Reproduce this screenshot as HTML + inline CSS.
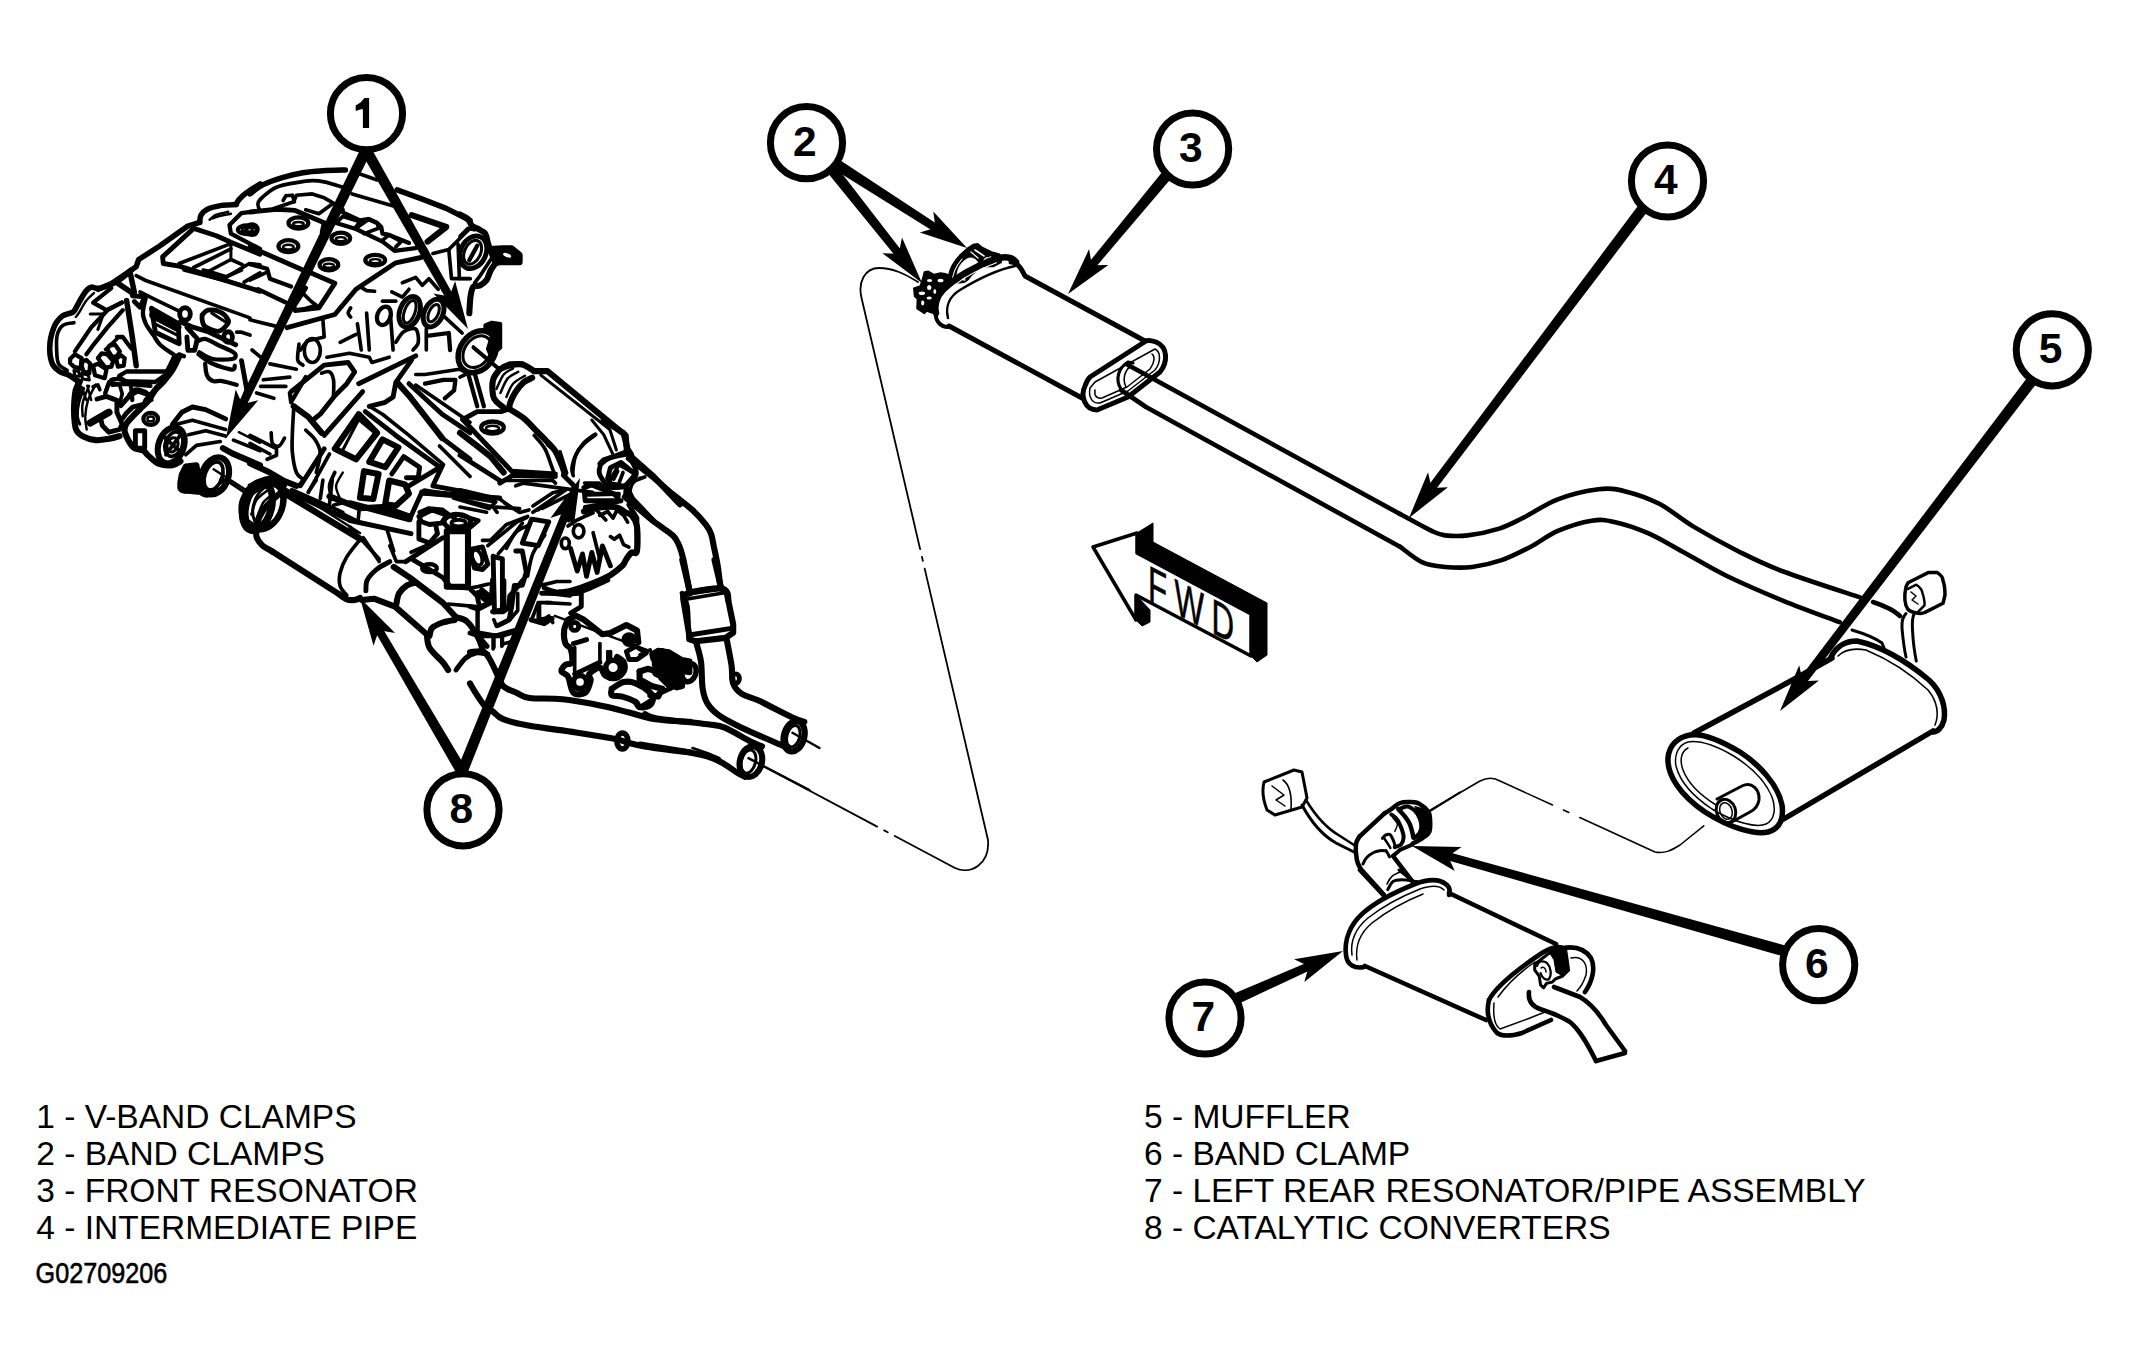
<!DOCTYPE html>
<html><head><meta charset="utf-8">
<style>
html,body{margin:0;padding:0;background:#fff;}
body{width:2129px;height:1358px;overflow:hidden;}
svg{display:block;}
</style></head>
<body>
<svg width="2129" height="1358" viewBox="0 0 2129 1358">
<g fill="none" stroke="#000" stroke-linecap="round" stroke-linejoin="round">
<path d="M260.0,184.0 C257.8,185.4 250.3,189.9 246.8,192.6 C243.2,195.2 240.6,197.9 238.8,199.9 C237.0,201.9 236.6,203.7 236.2,204.5" stroke-width="5.49" fill="none" />
<path d="M236.2,204.5 C233.7,204.7 226.4,204.6 221.6,205.4 C216.7,206.3 210.4,207.8 207.0,209.4 C203.6,211.0 202.2,213.0 201.0,215.1 C199.8,217.3 199.9,221.2 199.7,222.4" stroke-width="5.49" fill="none" />
<path d="M199.7,222.4 L187.1,226.4 L159.3,246.3 L138.7,259.5 L136.1,266.8 L111.6,283.4 L98.3,289.3" stroke-width="5.49" fill="none" />
<path d="M209.6,219.8 C210.8,218.9 213.2,216.1 216.3,214.7 C219.4,213.4 226.2,212.3 228.2,211.8" stroke-width="2.44" fill="none" />
<path d="M212.3,218.4 C213.6,218.0 217.2,216.6 220.3,215.8 C223.3,215.0 229.1,214.1 230.9,213.8" stroke-width="2.44" fill="none" />
<path d="M260.0,254.2 L230.9,242.3 L216.3,235.7 L193.7,228.4 L162.6,256.9 L163.3,263.5 L179.2,266.1 L260.0,291.3" stroke-width="4.88" fill="none" />
<path d="M179.2,263.5 L230.9,243.6" stroke-width="3.66" fill="none" />
<path d="M193.7,267.5 L230.9,248.9" stroke-width="3.66" fill="none" />
<path d="M208.3,271.5 L230.9,259.5 L242.8,264.8" stroke-width="3.66" fill="none" />
<path d="M226.9,276.8 L249.4,263.5 L260.0,264.8" stroke-width="3.66" fill="none" />
<path d="M244.1,282.1 L260.0,272.8" stroke-width="3.66" fill="none" />
<path d="M230.9,243.6 L230.9,258.2" stroke-width="3.05" fill="none" />
<path d="M260.0,210.5 L241.5,213.1 L229.5,225.1 L230.9,233.7 L260.0,248.9" stroke-width="4.27" fill="none" />
<ellipse cx="247.4" cy="229.7" rx="9.5" ry="4.4" transform="rotate(0 247.4 229.7)" stroke-width="4.27" fill="none"/>
<ellipse cx="247.4" cy="229.7" rx="5.3" ry="2.0" transform="rotate(0 247.4 229.7)" stroke-width="2.44" fill="none"/>
<path d="M250.0,193.9 C252.2,192.3 257.7,187.3 263.3,184.6 C268.8,181.8 276.5,179.3 283.1,177.3 C289.8,175.3 296.4,173.8 303.0,172.7 C309.6,171.5 315.8,171.1 322.9,170.7 C330.0,170.2 341.7,170.1 345.4,170.0" stroke-width="5.49" fill="none" />
<path d="M360.0,174.0 L377.2,179.9" stroke-width="3.66" fill="none" />
<path d="M397.1,189.9 L422.3,199.2 L446.2,208.4 L467.4,219.0 L470.0,220.4" stroke-width="5.49" fill="none" />
<path d="M259.3,209.8 C259.1,208.7 257.3,205.3 258.0,203.1 C258.6,200.9 260.2,199.2 263.3,196.5 C266.3,193.9 271.0,189.5 276.5,187.2 C282.0,184.9 290.4,183.7 296.4,182.6 C302.4,181.5 307.7,180.7 312.3,180.6 C316.9,180.5 319.1,180.8 324.2,181.9 C329.3,183.0 339.7,186.3 342.8,187.2" stroke-width="3.66" fill="none" />
<path d="M250.0,212.1 L276.5,209.2 L295.1,210.4 L324.2,222.8 L322.2,232.3" stroke-width="4.88" fill="none" />
<path d="M250.0,246.9 L301.7,269.4" stroke-width="4.88" fill="none" />
<ellipse cx="298.4" cy="223.0" rx="9.9" ry="5.6" transform="rotate(0 298.4 223.0)" stroke-width="4.27" fill="none"/>
<ellipse cx="298.4" cy="224.1" rx="5.3" ry="2.1" transform="rotate(0 298.4 224.1)" stroke-width="2.44" fill="none"/>
<ellipse cx="288.4" cy="246.2" rx="9.9" ry="6.0" transform="rotate(0 288.4 246.2)" stroke-width="4.27" fill="none"/>
<ellipse cx="288.4" cy="247.1" rx="5.3" ry="2.4" transform="rotate(0 288.4 247.1)" stroke-width="2.44" fill="none"/>
<ellipse cx="328.9" cy="264.8" rx="9.3" ry="5.6" transform="rotate(0 328.9 264.8)" stroke-width="4.27" fill="none"/>
<ellipse cx="328.9" cy="265.7" rx="5.0" ry="2.1" transform="rotate(0 328.9 265.7)" stroke-width="2.44" fill="none"/>
<ellipse cx="375.2" cy="260.1" rx="9.9" ry="5.3" transform="rotate(0 375.2 260.1)" stroke-width="4.27" fill="none"/>
<ellipse cx="375.2" cy="261.2" rx="5.3" ry="2.1" transform="rotate(0 375.2 261.2)" stroke-width="2.44" fill="none"/>
<ellipse cx="340.8" cy="238.3" rx="9.3" ry="5.6" transform="rotate(0 340.8 238.3)" stroke-width="4.27" fill="none"/>
<ellipse cx="340.8" cy="239.2" rx="5.0" ry="2.1" transform="rotate(0 340.8 239.2)" stroke-width="2.44" fill="none"/>
<ellipse cx="252.0" cy="229.6" rx="5.6" ry="5.3" transform="rotate(0 252.0 229.6)" stroke-width="4.27" fill="none"/>
<path d="M273.9,208.4 L293.7,201.8 L296.4,195.2 L312.3,193.9 L324.2,197.8 L333.5,203.1 L318.9,213.7 L305.7,209.8" stroke-width="3.66" fill="none" />
<path d="M283.1,200.5 L285.8,195.8 L292.4,195.2 L294.4,201.8" stroke-width="3.66" fill="none" />
<path d="M352.1,193.9 L392.5,205.8" stroke-width="3.66" fill="none" />
<path d="M342.8,209.8 L342.8,212.4 L360.0,220.4 L368.0,219.0 L377.2,223.0 L381.2,227.0 L382.5,233.6 L389.2,234.9 L409.0,242.9" stroke-width="4.27" fill="none" />
<path d="M336.1,223.0 L356.0,229.0 L382.5,241.6 L394.5,250.8 L415.7,248.2" stroke-width="4.27" fill="none" />
<path d="M337.5,221.7 L342.8,216.4 L360.0,221.7 L354.7,228.3" stroke-width="3.66" fill="none" />
<path d="M356.0,228.3 L369.3,219.0 L377.2,223.0 L378.6,228.3 L364.0,233.6" stroke-width="3.66" fill="none" />
<path d="M382.5,240.2 L389.2,234.9 L401.1,241.6 L395.8,246.9" stroke-width="3.66" fill="none" />
<path d="M312.3,273.4 L334.8,283.3 L318.9,307.8 L295.1,310.5 L293.7,306.5 L305.7,288.0" stroke-width="4.88" fill="none" />
<path d="M304.3,294.6 L311.0,301.2 L316.3,305.2 L303.0,309.2" stroke-width="3.66" fill="none" />
<path d="M250.0,264.1 L267.2,268.7 L269.9,278.7 L291.1,286.6" stroke-width="4.27" fill="none" />
<path d="M250.0,280.0 L267.2,272.1" stroke-width="3.66" fill="none" />
<path d="M258.0,289.3 L285.8,302.5" stroke-width="4.27" fill="none" />
<path d="M250.0,319.8 L276.5,326.4" stroke-width="3.66" fill="none" />
<path d="M287.1,327.7 L334.8,314.5 L356.0,289.3 L395.8,262.8 L421.0,257.5" stroke-width="4.88" fill="none" />
<path d="M411.7,215.1 L446.2,227.0 L427.6,241.6" stroke-width="6.10" fill="none" />
<path d="M432.9,253.5 L448.8,249.5 L467.4,231.0 L470.0,228.3" stroke-width="3.66" fill="none" />
<path d="M448.8,249.5 L451.5,278.7 L470.0,278.7" stroke-width="3.66" fill="none" />
<path d="M458.1,244.2 L459.4,278.7" stroke-width="3.66" fill="none" />
<ellipse cx="409.7" cy="311.8" rx="9.9" ry="15.9" transform="rotate(20 409.7 311.8)" stroke-width="4.88" fill="none"/>
<ellipse cx="409.7" cy="311.8" rx="5.3" ry="11.9" transform="rotate(20 409.7 311.8)" stroke-width="3.05" fill="none"/>
<ellipse cx="433.6" cy="313.1" rx="9.3" ry="14.6" transform="rotate(25 433.6 313.1)" stroke-width="4.88" fill="none"/>
<ellipse cx="433.6" cy="313.1" rx="4.6" ry="9.3" transform="rotate(25 433.6 313.1)" stroke-width="3.05" fill="none"/>
<ellipse cx="383.9" cy="315.8" rx="6.6" ry="9.5" transform="rotate(20 383.9 315.8)" stroke-width="4.27" fill="none"/>
<path d="M402.4,282.7 L415.7,277.4 L422.3,285.3 L428.9,278.7 L438.2,289.3" stroke-width="3.66" fill="none" />
<path d="M391.8,291.9 L402.4,297.2 L409.0,289.3" stroke-width="3.66" fill="none" />
<path d="M382.5,301.2 L395.8,301.2" stroke-width="3.66" fill="none" />
<path d="M366.6,313.1 L369.3,350.0" stroke-width="3.66" fill="none" />
<path d="M357.4,323.7 L361.3,350.0" stroke-width="3.66" fill="none" />
<path d="M322.9,319.8 L324.2,337.0 L307.0,341.0 L300.4,350.0" stroke-width="3.66" fill="none" />
<path d="M390.5,315.8 L393.1,350.0" stroke-width="3.66" fill="none" />
<path d="M428.9,335.7 L448.8,333.0 L450.1,350.0" stroke-width="4.27" fill="none" />
<path d="M426.3,329.0 L426.3,350.0" stroke-width="3.66" fill="none" />
<path d="M443.5,315.8 L462.1,333.0" stroke-width="3.66" fill="none" />
<path d="M350.7,307.8 C350.3,308.7 348.1,311.6 348.1,313.1 C348.1,314.7 350.3,316.5 350.7,317.1" stroke-width="3.66" fill="none" />
<path d="M360.0,286.6 L366.6,290.6 L374.6,291.3" stroke-width="3.66" fill="none" />
<path d="M340.1,342.3 L356.0,334.3" stroke-width="3.66" fill="none" />
<path d="M395.8,342.3 C397.1,340.5 400.4,333.9 403.7,331.7 C407.1,329.5 413.2,327.3 415.7,329.0 C418.1,330.8 418.8,338.8 418.3,342.3 C417.9,345.8 413.9,348.7 413.0,350.0" stroke-width="3.66" fill="none" />
<path d="M460.0,214.5 C461.3,215.3 466.0,217.3 468.0,219.2 C469.9,221.0 470.4,224.2 471.9,225.8 C473.5,227.3 475.0,227.1 477.2,228.4 C479.4,229.8 483.4,231.3 485.2,233.7 C486.9,236.2 487.1,240.5 487.8,243.0 C488.6,245.6 489.5,248.0 489.8,249.0" stroke-width="6.10" fill="none" />
<path d="M489.8,249.0 L502.4,248.3 L511.7,248.3 L519.6,254.9 L519.6,262.2 L499.8,262.2 L495.8,262.9 Z" stroke-width="6.10" fill="#000" />
<path d="M495.8,262.9 C494.9,264.2 492.0,268.0 490.5,270.8 C488.9,273.7 488.3,277.7 486.5,280.1 C484.7,282.6 482.1,284.3 479.9,285.4 C477.7,286.5 474.8,285.0 473.3,286.8 C471.7,288.5 471.3,291.6 470.6,296.0 C469.9,300.4 469.5,310.4 469.3,313.3" stroke-width="6.10" fill="none" />
<path d="M460.0,236.4 L468.0,228.4 L474.6,229.8" stroke-width="3.66" fill="none" />
<ellipse cx="473.3" cy="252.3" rx="12.6" ry="17.0" transform="rotate(25 473.3 252.3)" stroke-width="4.88" fill="none"/>
<ellipse cx="472.6" cy="252.3" rx="8.0" ry="12.6" transform="rotate(25 472.6 252.3)" stroke-width="3.05" fill="none"/>
<path d="M469.3,260.2 L477.2,245.7" stroke-width="4.27" fill="none" />
<ellipse cx="507.1" cy="255.2" rx="4.2" ry="1.9" transform="rotate(20 507.1 255.2)" stroke-width="0.00" fill="#fff"/>
<path d="M491.1,258.9 L479.9,276.1 L474.6,282.8" stroke-width="3.66" fill="none" />
<path d="M461.3,278.8 L470.6,278.8" stroke-width="3.05" fill="none" />
<path d="M485.2,325.2 L491.8,322.5 L500.4,323.9 L500.4,347.7 L494.5,353.0 L491.8,358.3 L487.8,349.0 L491.8,335.8 L485.2,329.2 Z" stroke-width="3.66" fill="#000" />
<ellipse cx="477.2" cy="351.7" rx="17.2" ry="22.5" transform="rotate(35 477.2 351.7)" stroke-width="5.49" fill="none"/>
<ellipse cx="477.2" cy="351.7" rx="12.6" ry="17.2" transform="rotate(35 477.2 351.7)" stroke-width="3.05" fill="none"/>
<path d="M473.3,347.7 L497.1,367.6" stroke-width="3.66" fill="none" />
<path d="M503.7,366.3 L510.4,363.6 L522.3,363.6 L528.9,367.6" stroke-width="4.88" fill="none" />
<path d="M79.8,381.8 C79.1,383.1 76.7,386.2 75.8,389.8 C74.9,393.3 74.5,398.6 74.2,403.0 C73.9,407.4 73.9,411.9 74.2,416.3 C74.5,420.7 74.7,426.2 76.1,429.5 C77.4,432.8 79.1,434.4 82.4,436.1 C85.7,437.9 91.2,439.7 95.7,440.1 C100.1,440.6 104.9,439.5 108.9,438.8 C112.9,438.1 117.8,436.6 119.5,436.1" stroke-width="6.10" fill="none" />
<path d="M83.7,388.4 C82.9,390.9 79.8,398.4 78.7,403.0 C77.6,407.7 77.2,412.7 77.4,416.3 C77.6,419.8 79.4,422.9 79.8,424.2" stroke-width="3.05" fill="none" />
<path d="M89.0,385.8 C88.0,388.7 83.7,397.9 82.7,403.0 C81.6,408.1 82.7,414.1 82.7,416.3" stroke-width="2.44" fill="none" />
<path d="M95.7,384.5 C94.4,387.1 89.7,395.1 88.0,400.4 C86.3,405.7 85.5,411.4 85.3,416.3 C85.1,421.1 86.4,427.3 86.7,429.5" stroke-width="2.44" fill="none" />
<path d="M179.2,356.6 C178.1,358.8 175.2,365.7 172.5,369.9 C169.9,374.1 166.1,378.5 163.3,381.8 C160.4,385.1 157.7,386.7 155.3,389.8 C152.9,392.9 151.1,397.3 148.7,400.4 C146.3,403.5 143.4,405.7 140.7,408.3 C138.1,411.0 135.2,413.6 132.8,416.3 C130.3,418.9 127.5,421.6 126.1,424.2 C124.8,426.9 123.7,428.4 124.8,432.2 C125.9,435.9 129.7,443.7 132.8,446.8 C135.9,449.8 140.7,449.2 143.4,450.7 C146.0,452.3 146.0,453.8 148.7,456.0 C151.3,458.2 155.3,462.4 159.3,464.0 C163.3,465.5 169.0,465.7 172.5,465.3 C176.1,464.9 179.2,462.0 180.5,461.3" stroke-width="6.10" fill="none" />
<path d="M97.0,399.0 L106.3,396.4 L116.9,400.4 L116.9,412.3 L122.2,424.2 L119.5,429.5 L108.9,432.2 L102.3,425.5 L101.0,420.2" stroke-width="4.88" fill="none" />
<path d="M90.4,422.9 L108.9,412.3" stroke-width="7.32" fill="none" />
<path d="M120.8,405.7 L130.1,395.1 L138.1,391.1 L150.0,395.1 L143.4,404.3 L132.8,407.0 L126.1,413.6 L122.2,418.9" stroke-width="4.88" fill="none" />
<path d="M104.9,393.7 L108.9,381.8 L119.5,384.5 L122.2,393.7 L119.5,404.3" stroke-width="3.66" fill="none" />
<ellipse cx="150.7" cy="418.9" rx="7.3" ry="6.0" transform="rotate(0 150.7 418.9)" stroke-width="4.27" fill="none"/>
<ellipse cx="150.7" cy="418.9" rx="3.3" ry="2.4" transform="rotate(0 150.7 418.9)" stroke-width="2.44" fill="none"/>
<path d="M135.4,430.8 L144.7,430.8 L144.7,448.1 L135.4,448.1 L135.4,430.8" stroke-width="4.88" fill="none" />
<ellipse cx="171.2" cy="445.4" rx="12.6" ry="18.6" transform="rotate(20 171.2 445.4)" stroke-width="6.10" fill="none"/>
<ellipse cx="173.9" cy="444.1" rx="8.6" ry="12.6" transform="rotate(20 173.9 444.1)" stroke-width="3.66" fill="none"/>
<path d="M185.8,466.6 L196.4,465.3 L199.0,482.5 L197.7,491.8 L185.8,490.5 L180.5,482.5 L181.8,474.6 Z" stroke-width="6.10" fill="#000" />
<ellipse cx="215.0" cy="475.9" rx="13.3" ry="19.2" transform="rotate(20 215.0 475.9)" stroke-width="6.10" fill="none"/>
<ellipse cx="213.6" cy="475.9" rx="8.6" ry="14.6" transform="rotate(20 213.6 475.9)" stroke-width="3.66" fill="none"/>
<path d="M213.6,469.3 L246.8,490.5" stroke-width="2.44" fill="none" />
<path d="M172.5,424.2 L181.8,412.3 L192.4,407.0 L205.7,409.6 L225.6,418.9" stroke-width="4.88" fill="none" />
<path d="M176.5,424.2 L192.4,420.2 L225.6,429.5" stroke-width="3.66" fill="none" />
<path d="M188.4,434.8 L205.7,430.8 L225.6,436.1" stroke-width="3.66" fill="none" />
<path d="M222.9,448.1 L232.2,453.4 L260.0,465.3" stroke-width="6.10" fill="none" />
<path d="M233.5,440.1 L260.0,450.7" stroke-width="3.66" fill="none" />
<path d="M238.8,432.2 L260.0,442.8" stroke-width="2.44" fill="none" />
<path d="M185.8,454.7 L196.4,445.4 L220.3,441.5" stroke-width="3.66" fill="none" />
<path d="M241.5,360.6 L246.8,389.8 L241.5,405.7" stroke-width="4.88" fill="none" />
<path d="M252.1,350.0 L260.0,356.6" stroke-width="3.66" fill="none" />
<ellipse cx="257.4" cy="506.4" rx="14.6" ry="25.2" transform="rotate(15 257.4 506.4)" stroke-width="6.10" fill="none"/>
<ellipse cx="258.7" cy="506.4" rx="10.6" ry="21.2" transform="rotate(15 258.7 506.4)" stroke-width="3.05" fill="none"/>
<path d="M289.8,393.0 L291.1,402.3 L305.7,377.1" stroke-width="4.27" fill="none" />
<path d="M291.1,391.7 L324.2,365.2 L348.1,362.5 L354.7,371.8 L346.8,383.7 L334.8,395.7 L320.2,414.2 L313.6,419.5" stroke-width="4.88" fill="none" />
<path d="M321.6,373.1 C322.9,372.9 327.5,370.7 329.5,371.8 C331.5,372.9 332.8,375.8 333.5,379.8 C334.2,383.7 333.5,393.0 333.5,395.7" stroke-width="3.66" fill="none" />
<path d="M293.7,406.3 L308.3,416.9 L321.6,432.8" stroke-width="6.10" fill="none" />
<path d="M293.7,408.9 C293.5,412.9 292.6,425.5 292.4,432.8 C292.2,440.1 291.7,446.0 292.4,452.7 C293.1,459.3 294.6,468.1 296.4,472.5 C298.2,477.0 301.9,478.1 303.0,479.2" stroke-width="3.66" fill="none" />
<path d="M305.7,430.1 C307.2,431.7 312.5,435.6 314.9,439.4 C317.4,443.2 320.0,447.1 320.2,452.7 C320.5,458.2 316.9,469.2 316.3,472.5" stroke-width="3.66" fill="none" />
<path d="M271.2,432.8 C271.4,434.5 271.2,441.2 272.5,443.4 C273.9,445.6 277.2,446.9 279.2,446.0 C281.1,445.1 283.6,439.4 284.5,438.1" stroke-width="3.66" fill="none" />
<path d="M250.0,435.4 L265.9,443.4 L276.5,448.7 L276.5,455.3 L267.2,459.3" stroke-width="3.66" fill="none" />
<path d="M250.0,443.4 L269.9,454.0" stroke-width="3.66" fill="none" />
<path d="M250.0,463.3 L267.2,471.2 L283.1,480.5 L296.4,485.8" stroke-width="6.10" fill="none" />
<path d="M250.0,485.8 C251.8,485.1 256.2,482.7 260.6,481.8 C265.0,480.9 272.5,479.8 276.5,480.5 C280.5,481.2 283.1,484.9 284.5,485.8" stroke-width="4.88" fill="none" />
<path d="M284.5,489.8 L349.4,520.0" stroke-width="4.88" fill="none" />
<path d="M292.4,489.8 L342.8,512.3" stroke-width="3.66" fill="none" />
<path d="M334.8,448.7 L358.7,414.2 L377.2,432.8 L356.0,459.3 L334.8,448.7" stroke-width="6.10" fill="none" />
<path d="M342.8,450.0 L358.7,419.5 L374.6,432.8 L356.0,458.0" stroke-width="3.05" fill="none" />
<path d="M369.3,461.9 L382.5,439.4 L398.4,447.4 L385.2,467.2 L369.3,461.9" stroke-width="6.10" fill="none" />
<path d="M360.0,497.7 L364.0,471.2 L378.6,473.9 L373.3,499.0 L360.0,497.7" stroke-width="6.10" fill="none" />
<path d="M385.2,504.3 L389.2,480.5 L405.1,484.5 L409.0,493.7 L395.8,505.7 L385.2,504.3" stroke-width="6.10" fill="none" />
<path d="M391.8,473.9 L403.7,456.6 L419.6,467.2 L418.3,477.8 L406.4,477.8" stroke-width="4.88" fill="none" />
<path d="M365.3,411.6 L395.8,435.4 L438.2,465.9" stroke-width="4.88" fill="none" />
<path d="M369.3,406.3 L382.5,414.2 L409.0,435.4 L443.5,464.6" stroke-width="3.66" fill="none" />
<path d="M397.1,382.4 L409.0,395.7 L442.2,438.1" stroke-width="6.10" fill="none" />
<path d="M409.0,383.7 L442.2,414.2 L470.0,432.8" stroke-width="4.88" fill="none" />
<path d="M415.7,385.1 L470.0,422.2" stroke-width="3.66" fill="none" />
<path d="M442.2,438.1 L470.0,459.3" stroke-width="4.88" fill="none" />
<path d="M439.5,446.0 L470.0,476.5" stroke-width="3.66" fill="none" />
<path d="M358.7,383.7 L415.7,355.9" stroke-width="4.88" fill="none" />
<path d="M324.2,435.4 L362.7,391.7" stroke-width="4.88" fill="none" />
<path d="M300.4,485.8 L324.2,448.7" stroke-width="4.88" fill="none" />
<path d="M308.3,492.4 L329.5,454.0" stroke-width="3.66" fill="none" />
<path d="M369.3,406.3 L385.2,402.3 L393.1,397.0 L395.8,382.4 L411.7,359.9" stroke-width="4.88" fill="none" />
<path d="M415.7,374.5 L425.0,374.5 L459.4,369.2 L467.4,373.1" stroke-width="3.66" fill="none" />
<path d="M425.0,383.7 L443.5,379.8 L455.4,379.8 L454.1,390.4 L444.8,398.3" stroke-width="4.27" fill="none" />
<path d="M329.5,496.4 L342.8,501.7 L360.0,508.3 L382.5,507.0 L409.0,516.3" stroke-width="6.10" fill="none" />
<path d="M409.0,485.8 L442.2,465.9 L432.9,485.8 L467.4,492.4" stroke-width="4.88" fill="none" />
<path d="M419.6,512.3 L428.9,508.3 L442.2,509.6 L455.4,518.9" stroke-width="4.27" fill="none" />
<path d="M422.3,492.4 L470.0,496.4" stroke-width="6.10" fill="none" />
<path d="M326.9,357.2 L349.4,353.3 L369.3,357.2 L371.9,362.5 L389.2,357.2" stroke-width="3.66" fill="none" />
<ellipse cx="312.3" cy="350.6" rx="8.0" ry="11.9" transform="rotate(0 312.3 350.6)" stroke-width="3.66" fill="none"/>
<path d="M299.0,344.0 C298.8,346.6 297.1,356.3 297.7,359.9 C298.4,363.4 302.1,364.3 303.0,365.2" stroke-width="3.66" fill="none" />
<path d="M269.9,363.9 L296.4,369.2" stroke-width="3.66" fill="none" />
<path d="M263.3,379.8 L289.8,377.1" stroke-width="3.66" fill="none" />
<path d="M260.6,386.4 L285.8,386.4" stroke-width="3.66" fill="none" />
<path d="M256.6,393.0 L273.9,398.3" stroke-width="3.66" fill="none" />
<ellipse cx="264.6" cy="504.3" rx="18.6" ry="26.5" transform="rotate(20 264.6 504.3)" stroke-width="4.88" fill="none"/>
<ellipse cx="267.2" cy="505.7" rx="13.3" ry="21.2" transform="rotate(20 267.2 505.7)" stroke-width="3.05" fill="none"/>
<path d="M334.8,472.5 C333.9,474.7 330.0,481.4 329.5,485.8 C329.1,490.2 331.7,496.8 332.2,499.0" stroke-width="3.66" fill="none" />
<path d="M342.8,472.5 C341.7,474.7 336.6,481.4 336.1,485.8 C335.7,490.2 339.5,496.8 340.1,499.0" stroke-width="2.44" fill="none" />
<path d="M499.8,369.2 C501.5,368.5 506.6,366.0 510.4,365.2 C514.1,364.4 518.3,363.5 522.3,364.5 C526.3,365.5 532.2,370.0 534.2,371.1" stroke-width="6.10" fill="none" />
<path d="M503.7,407.6 C502.6,406.7 498.9,404.3 497.1,402.3 C495.3,400.3 493.8,399.4 493.1,395.7 C492.5,391.9 492.0,384.2 493.1,379.8 C494.2,375.3 498.7,370.9 499.8,369.2" stroke-width="6.10" fill="none" />
<path d="M496.4,389.0 C497.7,386.6 501.0,377.9 503.7,374.5 C506.5,371.0 511.5,369.5 513.0,368.5" stroke-width="2.44" fill="none" />
<path d="M500.4,393.0 C501.6,390.6 504.7,382.0 507.7,378.4 C510.7,374.9 516.5,372.9 518.3,371.8" stroke-width="2.44" fill="none" />
<path d="M506.4,397.0 C507.5,394.8 509.9,387.3 513.0,383.7 C516.1,380.2 523.0,377.1 524.9,375.8" stroke-width="2.44" fill="none" />
<path d="M534.2,371.1 L547.5,371.1 L619.0,430.1 L625.7,435.4 L627.0,452.7 L631.0,455.3" stroke-width="6.10" fill="none" />
<path d="M540.8,375.1 L609.8,429.5 L616.4,450.0" stroke-width="3.05" fill="none" />
<path d="M509.0,408.9 C509.3,407.8 509.3,405.2 510.4,402.3 C511.5,399.4 513.5,395.0 515.7,391.7 C517.9,388.4 520.9,384.7 523.6,382.4 C526.4,380.1 530.8,378.5 532.2,377.8" stroke-width="6.10" fill="none" />
<path d="M509.0,408.9 C511.5,410.5 519.0,414.4 523.6,418.2 C528.3,422.0 533.1,427.7 536.9,431.5 C540.6,435.2 543.1,437.4 546.1,440.7 C549.2,444.0 552.8,447.1 555.4,451.3 C558.1,455.5 560.5,462.2 562.1,465.9 C563.6,469.7 564.3,472.5 564.7,473.9" stroke-width="6.10" fill="none" />
<path d="M534.2,435.4 C536.0,437.6 542.0,443.6 544.8,448.7 C547.7,453.8 549.8,461.5 551.5,465.9 C553.1,470.3 554.2,473.6 554.8,475.2" stroke-width="3.66" fill="none" />
<path d="M547.5,444.7 C549.2,446.3 555.4,450.2 558.1,454.0 C560.7,457.7 562.5,465.0 563.4,467.2" stroke-width="3.66" fill="none" />
<path d="M595.2,434.1 C593.2,435.6 586.6,439.6 583.3,443.4 C579.9,447.1 577.1,451.8 575.3,456.6 C573.5,461.5 573.1,469.9 572.7,472.5" stroke-width="3.66" fill="none" />
<path d="M462.7,419.5 L477.2,411.6 L501.1,411.6 L509.0,408.9" stroke-width="4.88" fill="none" />
<path d="M462.7,419.5 L511.7,471.2 L555.4,473.9" stroke-width="4.88" fill="none" />
<path d="M460.0,432.8 L477.2,446.0 L490.5,456.6 L503.7,472.5" stroke-width="6.10" fill="none" />
<path d="M460.0,455.3 L499.8,480.5" stroke-width="4.88" fill="none" />
<ellipse cx="492.5" cy="427.5" rx="11.3" ry="6.0" transform="rotate(0 492.5 427.5)" stroke-width="4.27" fill="none"/>
<ellipse cx="492.5" cy="428.5" rx="6.6" ry="2.7" transform="rotate(0 492.5 428.5)" stroke-width="2.44" fill="none"/>
<path d="M468.0,373.1 L477.2,406.3" stroke-width="4.27" fill="none" />
<path d="M474.6,373.1 L483.9,406.3" stroke-width="4.27" fill="none" />
<path d="M460.0,377.1 L468.0,373.1" stroke-width="3.66" fill="none" />
<path d="M473.3,346.6 L499.8,369.2" stroke-width="3.05" fill="none" />
<path d="M499.8,483.1 L513.0,475.2 L555.4,476.5" stroke-width="4.88" fill="none" />
<path d="M502.4,480.5 L552.8,480.5 L555.4,483.1" stroke-width="3.66" fill="none" />
<path d="M515.7,485.8 L523.6,483.1 L592.5,492.4" stroke-width="3.66" fill="none" />
<path d="M600.5,464.6 C602.0,463.5 604.9,459.7 609.8,458.0 C614.6,456.2 626.1,453.8 629.6,454.0 C633.2,454.2 629.9,456.0 631.0,459.3 C632.1,462.6 637.2,469.4 636.3,473.9 C635.4,478.3 630.1,483.6 625.7,485.8 C621.3,488.0 613.5,488.0 609.8,487.1 C606.0,486.2 604.9,482.9 603.1,480.5 C601.4,478.1 599.6,475.2 599.2,472.5 C598.7,469.9 600.3,465.9 600.5,464.6" stroke-width="4.88" fill="none" />
<path d="M609.8,480.5 L619.0,464.6 L635.0,473.9 L625.7,485.8" stroke-width="3.66" fill="none" />
<path d="M613.7,479.2 L617.7,471.2" stroke-width="3.66" fill="none" />
<path d="M619.0,483.1 L623.0,472.5" stroke-width="3.66" fill="none" />
<path d="M631.0,456.6 L652.2,475.2 L680.0,504.3" stroke-width="6.10" fill="none" />
<path d="M625.7,485.8 L632.3,499.0 L652.2,520.0" stroke-width="6.10" fill="none" />
<path d="M640.3,477.8 C638.9,478.9 634.3,480.9 632.3,484.5 C630.3,488.0 629.0,496.6 628.3,499.0" stroke-width="3.05" fill="none" />
<path d="M460.0,489.8 L499.8,499.0 L510.4,507.0" stroke-width="3.66" fill="none" />
<path d="M460.0,499.0 L493.1,507.0 L497.1,512.3" stroke-width="3.66" fill="none" />
<path d="M460.0,507.0 L486.5,512.3" stroke-width="3.66" fill="none" />
<path d="M532.9,512.3 L566.0,489.8" stroke-width="3.66" fill="none" />
<path d="M542.2,508.3 L568.7,495.1" stroke-width="3.66" fill="none" />
<path d="M587.2,493.7 L619.0,493.7" stroke-width="3.66" fill="none" />
<path d="M584.6,483.1 L599.2,483.1 L619.0,499.0" stroke-width="3.66" fill="none" />
<path d="M563.4,475.2 L574.0,485.8 L568.7,520.0" stroke-width="4.88" fill="none" />
<path d="M592.5,505.7 L605.8,520.0" stroke-width="3.66" fill="none" />
<path d="M247.4,490.6 C248.9,489.3 253.3,484.2 256.6,482.7 C259.9,481.1 263.3,480.7 267.2,481.3 C271.2,482.0 278.3,485.7 280.5,486.6" stroke-width="6.10" fill="none" />
<path d="M256.6,527.7 C254.9,526.6 248.5,523.3 246.0,521.1 C243.6,518.9 242.7,517.6 242.1,514.5 C241.4,511.4 241.2,506.5 242.1,502.5 C242.9,498.6 246.5,492.6 247.4,490.6" stroke-width="6.10" fill="none" />
<path d="M246.0,510.5 C246.9,508.1 248.7,499.7 251.3,495.9 C254.0,492.1 260.2,489.3 261.9,488.0" stroke-width="2.44" fill="none" />
<path d="M251.3,514.5 C252.2,512.0 254.0,503.9 256.6,499.9 C259.3,495.9 265.5,492.1 267.2,490.6" stroke-width="2.44" fill="none" />
<path d="M256.6,518.4 C257.7,515.8 260.6,506.5 263.3,502.5 C265.9,498.6 271.0,495.9 272.5,494.6" stroke-width="2.44" fill="none" />
<path d="M280.5,486.6 L283.1,491.9 L360.0,538.3" stroke-width="5.49" fill="none" />
<path d="M291.1,489.3 L360.0,533.0" stroke-width="2.44" fill="none" />
<path d="M282.5,493.9 L360.0,541.0" stroke-width="3.05" fill="none" />
<path d="M256.6,527.7 C257.1,525.9 257.5,520.9 259.3,517.1 C261.1,513.4 263.7,509.3 267.2,505.2 C270.8,501.1 278.3,494.7 280.5,492.6" stroke-width="6.10" fill="none" />
<path d="M256.6,527.7 C256.6,529.3 255.7,534.1 256.6,537.0 C257.5,539.9 259.3,542.5 261.9,544.9 C264.6,547.4 270.8,550.5 272.5,551.6" stroke-width="6.10" fill="none" />
<path d="M272.5,551.6 L338.8,594.0" stroke-width="6.10" fill="none" />
<path d="M338.8,594.0 C340.1,594.9 344.1,598.3 346.8,599.3 C349.4,600.3 352.5,600.2 354.7,599.9 C356.9,599.7 359.1,598.3 360.0,598.0" stroke-width="6.10" fill="none" />
<path d="M360.0,539.6 C357.8,542.5 350.1,551.3 346.8,556.9 C343.4,562.4 341.2,567.9 340.1,572.8 C339.0,577.6 339.0,582.3 340.1,586.0 C341.2,589.8 345.7,593.8 346.8,595.3" stroke-width="3.66" fill="none" />
<path d="M181.1,480.0 C181.0,481.3 179.8,486.2 180.4,488.0 C181.1,489.7 182.5,490.4 185.1,490.6 C187.6,490.8 192.1,488.6 195.7,489.3 C199.2,489.9 202.3,494.4 206.3,494.6 C210.2,494.8 216.4,492.1 219.5,490.6 C222.6,489.1 224.4,487.1 224.8,485.3 C225.3,483.5 222.6,480.9 222.2,480.0" stroke-width="6.10" fill="none" />
<path d="M226.1,480.0 L246.0,493.3" stroke-width="3.05" fill="none" />
<path d="M299.0,485.3 L303.0,480.0" stroke-width="3.66" fill="none" />
<path d="M308.3,491.9 L316.3,480.0" stroke-width="3.66" fill="none" />
<path d="M320.3,498.6 L322.9,480.0" stroke-width="3.66" fill="none" />
<path d="M329.5,503.9 L332.2,480.0" stroke-width="3.66" fill="none" />
<path d="M338.8,511.8 L360.0,522.4" stroke-width="3.66" fill="none" />
<path d="M333.5,505.2 C335.7,504.7 342.8,502.1 346.8,502.5 C350.7,503.0 355.6,506.9 357.4,507.8" stroke-width="3.66" fill="none" />
<path d="M365.9,590.7 C366.1,589.0 365.5,583.7 367.2,580.1 C369.0,576.6 372.8,572.6 376.5,569.5 C380.3,566.4 387.6,562.9 389.8,561.6" stroke-width="4.88" fill="none" />
<path d="M393.7,566.9 L409.6,577.5 L442.8,602.7 L456.0,617.2" stroke-width="6.10" fill="none" />
<path d="M456.0,617.2 C457.8,617.9 463.1,618.1 466.6,621.2 C470.2,624.3 474.6,631.2 477.2,635.8 C479.9,640.4 481.7,646.8 482.5,649.0" stroke-width="6.10" fill="none" />
<path d="M361.9,600.0 L373.9,598.7 L395.1,606.6 L426.9,634.5" stroke-width="6.10" fill="none" />
<path d="M426.9,634.5 C427.3,636.7 426.9,643.1 429.5,647.7 C432.2,652.4 439.7,658.6 442.8,662.3 C445.9,666.0 447.2,668.7 448.1,670.0" stroke-width="6.10" fill="none" />
<path d="M396.4,604.0 C396.8,602.2 397.3,596.5 399.0,593.4 C400.8,590.3 404.3,587.2 407.0,585.4 C409.6,583.7 413.6,583.2 414.9,582.8" stroke-width="6.10" fill="none" />
<path d="M429.5,635.8 C430.0,634.5 430.0,630.0 432.2,627.8 C434.4,625.6 439.0,623.9 442.8,622.5 C446.5,621.2 452.7,620.3 454.7,619.9" stroke-width="6.10" fill="none" />
<path d="M446.8,531.1 L468.0,531.1 L468.0,586.8 L446.8,586.8 L446.8,531.1" stroke-width="6.10" fill="none" />
<ellipse cx="457.4" cy="521.8" rx="13.3" ry="7.3" transform="rotate(0 457.4 521.8)" stroke-width="4.88" fill="none"/>
<ellipse cx="458.7" cy="523.1" rx="7.3" ry="3.3" transform="rotate(0 458.7 523.1)" stroke-width="3.66" fill="none"/>
<path d="M445.4,516.5 L456.0,513.9 L478.6,520.5 L469.3,528.4" stroke-width="4.27" fill="none" />
<path d="M418.9,516.5 L432.2,509.9 L446.8,515.2 L441.5,523.1 L429.5,524.5 L421.6,521.8 L418.9,516.5" stroke-width="4.88" fill="none" />
<path d="M418.9,521.8 L418.9,539.0 L429.5,543.0 L437.5,533.7 L436.1,527.1" stroke-width="4.88" fill="none" />
<path d="M405.7,561.6 L442.8,537.7" stroke-width="4.88" fill="none" />
<path d="M411.0,552.3 L432.2,543.0" stroke-width="3.66" fill="none" />
<ellipse cx="429.5" cy="568.2" rx="7.3" ry="4.0" transform="rotate(0 429.5 568.2)" stroke-width="4.27" fill="none"/>
<path d="M413.6,560.2 L442.8,577.5 L450.7,586.8 L469.3,588.1 L477.2,596.0 L478.6,602.7" stroke-width="4.88" fill="none" />
<path d="M448.1,604.0 L477.2,606.6 L490.5,602.7" stroke-width="3.66" fill="none" />
<path d="M477.2,608.0 L477.2,630.5" stroke-width="3.66" fill="none" />
<path d="M469.3,549.6 L482.5,547.0 L487.8,564.2 L482.5,569.5 L474.6,568.2 L471.9,558.9" stroke-width="4.88" fill="none" />
<ellipse cx="477.2" cy="557.6" rx="4.6" ry="8.0" transform="rotate(-20 477.2 557.6)" stroke-width="3.66" fill="none"/>
<path d="M493.1,556.3 L502.4,558.9 L502.4,609.3 L494.5,611.9 L493.1,556.3" stroke-width="4.88" fill="none" />
<path d="M482.5,540.4 L490.5,540.4 L506.4,524.5 L527.6,516.5" stroke-width="3.66" fill="none" />
<path d="M487.8,545.7 L517.0,521.8 L526.3,517.8" stroke-width="3.66" fill="none" />
<path d="M498.4,553.6 C500.7,551.0 507.7,542.8 511.7,537.7 C515.7,532.6 520.5,525.6 522.3,523.1" stroke-width="3.66" fill="none" />
<path d="M506.4,548.3 C507.9,545.7 512.1,536.2 515.7,532.4 C519.2,528.7 525.6,526.9 527.6,525.8" stroke-width="3.66" fill="none" />
<path d="M522.3,543.0 L531.6,519.2 L548.8,521.8 L538.2,545.7 L522.3,543.0" stroke-width="4.88" fill="none" />
<path d="M527.6,576.1 C528.5,572.4 530.0,560.5 532.9,553.6 C535.8,546.8 542.8,538.2 544.8,535.1" stroke-width="3.66" fill="none" />
<path d="M515.7,551.0 L522.3,551.0 L526.3,572.2 L522.3,585.4 L514.3,585.4 L511.7,606.6 L509.0,619.9 L498.4,625.2" stroke-width="4.88" fill="none" />
<path d="M479.9,633.1 L495.8,635.8 L514.3,630.5" stroke-width="4.88" fill="none" />
<path d="M493.1,635.8 L493.1,649.0" stroke-width="3.66" fill="none" />
<path d="M502.4,637.1 L502.4,645.1" stroke-width="3.66" fill="none" />
<path d="M456.0,670.0 C457.6,668.0 462.0,661.2 465.3,658.3 C468.6,655.5 472.2,653.7 475.9,653.0 C479.7,652.4 485.9,654.1 487.8,654.3" stroke-width="4.88" fill="none" />
<path d="M350.0,503.3 L409.6,519.2" stroke-width="6.10" fill="none" />
<path d="M350.0,520.5 L411.0,533.7" stroke-width="4.88" fill="none" />
<path d="M359.3,508.6 L358.0,521.8" stroke-width="3.66" fill="none" />
<path d="M409.6,519.2 L421.6,492.7 L499.8,498.0" stroke-width="4.88" fill="none" />
<path d="M424.2,490.0 L495.8,501.9 L490.5,507.2" stroke-width="3.66" fill="none" />
<path d="M453.4,498.0 L489.2,508.6" stroke-width="3.66" fill="none" />
<path d="M495.8,507.2 L519.6,508.6" stroke-width="3.66" fill="none" />
<path d="M505.1,503.3 L519.6,512.5 L528.9,509.9" stroke-width="3.66" fill="none" />
<path d="M532.9,505.9 L552.8,492.7 L564.7,490.0" stroke-width="3.66" fill="none" />
<path d="M538.2,509.9 L554.1,498.0" stroke-width="3.66" fill="none" />
<path d="M540.9,585.4 L556.8,581.5 L570.0,581.5" stroke-width="3.66" fill="none" />
<path d="M531.6,619.9 L538.2,602.7 L551.5,602.7" stroke-width="3.66" fill="none" />
<path d="M546.2,602.7 L570.0,604.0" stroke-width="3.66" fill="none" />
<path d="M548.8,593.4 L570.0,596.0" stroke-width="3.66" fill="none" />
<path d="M539.5,622.5 L548.8,615.9 L552.8,622.5" stroke-width="3.66" fill="none" />
<path d="M350.0,527.1 L379.2,558.9" stroke-width="3.66" fill="none" />
<path d="M363.3,537.7 L379.2,561.6" stroke-width="3.66" fill="none" />
<path d="M387.1,529.8 L393.7,551.0" stroke-width="3.66" fill="none" />
<path d="M389.8,545.7 L396.4,561.6 L405.7,561.6" stroke-width="3.66" fill="none" />
<path d="M628.9,458.4 C632.9,461.5 645.5,471.0 652.8,477.0 C660.1,483.0 666.0,488.7 672.7,494.2 C679.3,499.7 687.0,505.0 692.5,510.1 C698.1,515.2 702.7,520.7 705.8,524.7 C708.9,528.7 709.8,530.4 711.1,534.0 C712.4,537.5 712.6,540.6 713.7,545.9 C714.8,551.2 716.6,558.9 717.7,565.8 C718.8,572.6 719.9,583.5 720.4,587.0" stroke-width="6.10" fill="none" />
<path d="M624.9,496.9 C629.6,500.8 644.8,514.3 652.8,520.7 C660.7,527.1 668.2,531.1 672.7,535.3 C677.1,539.5 677.5,541.9 679.3,545.9 C681.1,549.9 681.9,553.6 683.3,559.2 C684.6,564.7 686.1,573.3 687.2,579.0 C688.3,584.8 689.4,591.2 689.9,593.6" stroke-width="6.10" fill="none" />
<path d="M683.3,596.3 C684.6,595.6 685.2,593.6 691.2,592.3 C697.2,591.0 713.1,588.3 719.0,588.3 C725.0,588.3 725.5,590.4 727.0,592.3 C728.5,594.2 728.1,598.7 728.3,600.0" stroke-width="6.10" fill="none" />
<path d="M599.8,463.7 L603.7,459.8 L615.7,455.8 L626.3,451.8 L631.6,454.5 L631.6,458.4" stroke-width="4.88" fill="none" />
<path d="M607.7,478.3 L610.4,467.7 L621.0,462.4 L635.5,474.3 L624.9,486.3 L610.4,483.6 L607.7,478.3" stroke-width="4.88" fill="none" />
<path d="M624.9,496.9 C625.2,495.1 624.7,488.9 626.3,486.3 C627.8,483.6 631.1,482.5 634.2,481.0 C637.3,479.4 643.1,477.7 644.8,477.0" stroke-width="3.66" fill="none" />
<path d="M603.7,420.0 L623.6,433.3 L627.6,449.2 L630.2,453.1" stroke-width="6.10" fill="none" />
<path d="M591.8,420.0 L603.7,434.6 L613.0,454.5" stroke-width="3.05" fill="none" />
<path d="M595.8,434.6 C593.8,436.1 587.2,440.5 583.9,443.9 C580.5,447.2 577.9,450.5 575.9,454.5 C573.9,458.4 572.4,464.2 571.9,467.7 C571.5,471.2 573.0,474.3 573.3,475.7" stroke-width="3.66" fill="none" />
<path d="M583.9,511.5 C586.5,510.8 594.2,508.1 599.8,507.5 C605.3,506.8 612.6,506.6 617.0,507.5 C621.4,508.4 623.8,511.5 626.3,512.8 C628.7,514.1 629.8,513.2 631.6,515.4 C633.3,517.6 636.0,520.1 636.9,526.0 C637.8,532.0 637.8,546.8 636.9,551.2 C636.0,555.6 633.3,551.2 631.6,552.5 C629.8,553.9 627.8,557.0 626.3,559.2 C624.7,561.4 624.9,563.1 622.3,565.8 C619.6,568.4 615.2,572.2 610.4,575.1 C605.5,577.9 599.8,580.4 593.1,583.0 C586.5,585.7 576.1,589.4 570.6,591.0 C565.1,592.5 561.8,592.1 560.0,592.3" stroke-width="6.10" fill="none" />
<path d="M599.8,515.4 L607.7,511.5 L613.0,518.1 L617.0,510.1 L623.6,515.4 L627.6,522.1" stroke-width="3.66" fill="none" />
<path d="M610.4,536.6 L614.3,539.3 L619.6,535.3 L623.6,544.6 L628.9,547.2" stroke-width="3.66" fill="none" />
<path d="M568.0,526.0 L575.9,520.7 L583.9,516.8 L593.1,512.8" stroke-width="3.66" fill="none" />
<path d="M570.6,548.6 L577.2,571.1 L582.5,553.9 L586.5,576.4 L591.8,552.5 L597.1,572.4 L602.4,545.9 L610.4,565.8" stroke-width="4.88" fill="none" />
<path d="M583.9,487.6 L591.8,484.9 L618.3,495.5 L617.0,500.8 L585.2,500.8 L583.9,487.6" stroke-width="4.88" fill="none" />
<path d="M587.8,494.9 L615.7,494.2" stroke-width="3.66" fill="none" />
<path d="M585.2,507.5 L599.8,504.8 L621.0,500.8" stroke-width="4.88" fill="none" />
<path d="M628.9,504.8 L636.9,518.1 L636.9,551.2" stroke-width="4.88" fill="none" />
<path d="M560.0,451.8 L566.6,473.0" stroke-width="3.66" fill="none" />
<ellipse cx="578.6" cy="531.3" rx="5.3" ry="6.6" transform="rotate(0 578.6 531.3)" stroke-width="3.66" fill="none"/>
<ellipse cx="565.3" cy="543.3" rx="4.0" ry="5.3" transform="rotate(0 565.3 543.3)" stroke-width="3.66" fill="none"/>
<path d="M593.1,532.7 L599.8,559.2" stroke-width="3.66" fill="none" />
<path d="M470.0,652.2 C472.2,652.1 479.9,650.4 483.3,651.6 C486.6,652.8 487.7,656.0 489.9,659.5 C492.1,663.1 494.3,668.4 496.5,672.8 C498.7,677.2 499.8,682.7 503.1,686.0 C506.4,689.3 512.0,690.7 516.4,692.7 C520.8,694.6 521.9,696.9 529.6,698.0 C537.4,699.1 550.6,698.0 562.8,699.3 C574.9,700.6 591.5,703.7 602.5,705.9 C613.6,708.1 620.2,710.3 629.0,712.5 C637.9,714.7 645.4,717.6 655.6,719.2 C665.7,720.7 684.3,721.4 690.0,721.8" stroke-width="6.10" fill="none" />
<path d="M470.0,683.4 C471.3,685.6 475.3,692.7 478.0,696.6 C480.6,700.6 483.5,704.8 485.9,707.2 C488.3,709.7 489.7,709.2 492.5,711.2 C495.4,713.2 496.9,716.7 503.1,719.2 C509.3,721.6 517.5,723.6 529.6,725.8 C541.8,728.0 561.7,730.2 576.0,732.4 C590.4,734.6 607.0,737.3 615.8,739.0 C624.6,740.8 622.4,741.5 629.0,743.0 C635.7,744.6 645.4,746.8 655.6,748.3 C665.7,749.9 684.3,751.6 690.0,752.3" stroke-width="6.10" fill="none" />
<ellipse cx="622.4" cy="741.0" rx="5.6" ry="8.0" transform="rotate(0 622.4 741.0)" stroke-width="5.49" fill="none"/>
<path d="M470.0,633.0 L478.0,635.7 L487.2,646.3" stroke-width="4.88" fill="none" />
<path d="M480.6,635.7 L501.8,635.7 L513.7,631.7" stroke-width="4.88" fill="none" />
<path d="M493.9,637.0 L493.9,647.6" stroke-width="3.66" fill="none" />
<path d="M501.8,637.0 L501.8,646.3" stroke-width="3.66" fill="none" />
<path d="M504.5,643.6 L513.7,641.0 L517.7,630.4" stroke-width="3.66" fill="none" />
<path d="M470.0,606.5 L478.0,609.2 L491.2,602.5 L492.5,580.0" stroke-width="4.88" fill="none" />
<path d="M478.0,610.5 L478.0,630.4" stroke-width="3.66" fill="none" />
<path d="M470.0,588.0 L478.0,586.6 L488.6,584.0" stroke-width="3.66" fill="none" />
<path d="M492.5,611.8 L503.1,611.8 L508.4,607.8 L509.8,595.9 L517.7,586.6 L523.0,580.0" stroke-width="4.88" fill="none" />
<path d="M504.5,580.0 L504.5,610.5" stroke-width="3.66" fill="none" />
<path d="M478.0,593.3 L485.9,599.9" stroke-width="6.10" fill="none" />
<path d="M481.9,590.6 L489.9,597.2" stroke-width="6.10" fill="none" />
<path d="M493.9,619.8 L496.5,626.4 L509.8,619.8 L517.7,610.5 L517.7,593.3" stroke-width="3.66" fill="none" />
<path d="M541.6,593.3 L581.3,593.3 L581.3,606.5 L570.7,613.1" stroke-width="4.88" fill="none" />
<path d="M538.9,603.9 L538.9,619.8 L552.2,618.4 L544.2,623.7 L531.0,619.8" stroke-width="4.88" fill="none" />
<path d="M544.2,588.0 C546.2,588.6 550.8,591.0 556.1,591.9 C561.5,592.8 567.4,595.2 576.0,593.3 C584.6,591.3 602.5,582.2 607.8,580.0" stroke-width="4.88" fill="none" />
<path d="M568.1,619.8 L576.0,615.8 L584.0,619.8 L602.5,634.3 L610.5,633.0 L626.4,625.1 L637.0,630.4 L638.3,642.3" stroke-width="6.10" fill="none" />
<path d="M568.1,619.8 C567.4,621.5 564.5,626.4 564.1,630.4 C563.7,634.3 564.3,640.5 565.4,643.6 C566.5,646.7 569.6,645.8 570.7,648.9 C571.8,652.0 572.9,659.5 572.1,662.2 C571.2,664.8 567.2,663.3 565.4,664.8 C563.7,666.4 561.0,669.5 561.5,671.5 C561.9,673.4 566.1,673.2 568.1,676.8 C570.1,680.3 570.5,690.0 573.4,692.7 C576.3,695.3 582.4,694.6 585.3,692.7 C588.2,690.7 589.9,683.8 590.6,680.7 C591.3,677.6 587.7,676.3 589.3,674.1 C590.8,671.9 597.2,667.3 599.9,667.5 C602.5,667.7 602.5,673.7 605.2,675.4 C607.8,677.2 612.7,678.7 615.8,678.1 C618.9,677.4 622.4,674.1 623.7,671.5 C625.1,668.8 624.8,664.6 623.7,662.2 C622.6,659.7 618.2,657.8 617.1,656.9" stroke-width="6.10" fill="none" />
<path d="M574.7,647.6 L574.7,674.1" stroke-width="3.66" fill="none" />
<path d="M574.7,674.1 L599.9,662.2" stroke-width="4.88" fill="none" />
<path d="M599.9,643.6 L599.9,660.8" stroke-width="3.66" fill="none" />
<path d="M607.8,651.6 L607.8,659.5" stroke-width="3.66" fill="none" />
<path d="M610.5,651.6 L610.5,659.5" stroke-width="3.66" fill="none" />
<path d="M573.4,643.6 L586.6,639.6" stroke-width="4.88" fill="none" />
<ellipse cx="580.0" cy="682.1" rx="6.6" ry="6.6" transform="rotate(0 580.0 682.1)" stroke-width="5.49" fill="none"/>
<ellipse cx="613.1" cy="667.5" rx="7.3" ry="7.3" transform="rotate(0 613.1 667.5)" stroke-width="5.49" fill="none"/>
<ellipse cx="629.0" cy="639.6" rx="5.0" ry="5.0" transform="rotate(0 629.0 639.6)" stroke-width="4.88" fill="#000"/>
<ellipse cx="574.7" cy="626.4" rx="4.0" ry="4.0" transform="rotate(0 574.7 626.4)" stroke-width="4.88" fill="none"/>
<path d="M626.4,651.6 L635.7,646.3 L646.3,652.9 L637.0,659.5 L629.0,659.5 L626.4,651.6" stroke-width="4.88" fill="none" />
<path d="M554.8,615.8 L651.6,651.6" stroke-width="2.44" fill="none" />
<path d="M651.6,654.2 L658.2,650.2 L668.8,651.6 L682.1,659.5 L690.0,660.8 L690.0,672.8 L682.1,671.5 L668.8,666.1 L652.9,659.5 Z" stroke-width="4.88" fill="#000" />
<path d="M639.6,671.5 L647.6,668.8 L662.2,672.8 L666.2,680.7 L676.8,687.4 L682.1,686.0 L682.1,679.4 L676.8,670.1" stroke-width="6.10" fill="none" />
<path d="M639.6,671.5 L639.6,679.4 L651.6,686.0 L662.2,688.7 L658.2,696.6 L650.3,695.3" stroke-width="6.10" fill="none" />
<path d="M611.8,688.7 C613.8,687.6 619.8,682.9 623.7,682.1 C627.7,681.2 631.3,681.6 635.7,683.4 C640.1,685.1 647.4,690.0 650.3,692.7 C653.1,695.3 653.1,697.1 652.9,699.3 C652.7,701.5 651.1,704.6 648.9,705.9 C646.7,707.2 641.9,707.9 639.6,707.2 C637.4,706.6 638.5,703.7 635.7,701.9 C632.8,700.2 626.4,697.7 622.4,696.6 C618.4,695.5 613.6,696.6 611.8,695.3 C610.0,694.0 611.8,689.8 611.8,688.7" stroke-width="6.10" fill="none" />
<ellipse cx="658.2" cy="672.8" rx="4.6" ry="3.3" transform="rotate(20 658.2 672.8)" stroke-width="3.66" fill="none"/>
<path d="M615.8,695.3 L631.7,699.3 L637.0,707.2" stroke-width="2.44" fill="none" />
<path d="M682.1,593.3 C682.9,595.5 686.3,598.8 687.4,606.5 C688.5,614.2 688.5,634.1 688.7,639.6" stroke-width="4.88" fill="none" />
<path d="M682.3,560.0 L690.0,592.2" stroke-width="6.10" fill="none" />
<path d="M714.5,560.0 L721.3,588.8" stroke-width="6.10" fill="none" />
<path d="M695.9,641.3 C696.7,644.7 699.8,653.7 701.0,661.6 C702.1,669.5 701.5,681.7 702.7,688.7 C703.8,695.8 704.9,699.5 707.8,704.0 C710.6,708.5 714.0,711.9 719.6,715.8 C725.3,719.8 730.9,722.6 741.6,727.7 C752.4,732.8 776.9,743.2 784.0,746.3" stroke-width="6.10" fill="none" />
<path d="M726.4,637.9 C727.2,642.4 730.3,657.4 731.5,665.0 C732.6,672.6 731.5,678.8 733.2,683.6 C734.9,688.4 737.4,691.0 741.6,693.8 C745.9,696.6 750.1,696.6 758.6,700.6 C767.0,704.5 784.8,714.0 792.4,717.5 C800.1,721.0 802.3,721.0 804.3,721.8" stroke-width="6.10" fill="none" />
<path d="M683.2,595.6 L690.8,592.2 L721.3,587.9 L726.4,591.3 L733.2,624.4 L733.2,632.8 L725.5,637.9 L695.9,641.3 L690.0,639.6 L683.2,599.0 L683.2,595.6" stroke-width="6.10" fill="none" />
<path d="M687.4,599.0 L723.0,593.0" stroke-width="3.66" fill="none" />
<path d="M692.5,634.5 L729.8,628.6" stroke-width="4.88" fill="none" />
<ellipse cx="794.1" cy="736.2" rx="10.2" ry="15.6" transform="rotate(15 794.1 736.2)" stroke-width="6.10" fill="none"/>
<ellipse cx="793.3" cy="736.2" rx="6.4" ry="11.0" transform="rotate(15 793.3 736.2)" stroke-width="3.05" fill="none"/>
<ellipse cx="735.7" cy="678.6" rx="3.7" ry="4.7" transform="rotate(0 735.7 678.6)" stroke-width="4.88" fill="none"/>
<path d="M792.4,732.8 L819.5,748.0" stroke-width="2.44" fill="none" />
<path d="M645.1,714.1 C647.1,714.8 646.5,716.7 656.9,718.4 C667.4,720.1 696.5,722.7 707.8,724.3 C719.0,725.8 717.6,724.9 724.7,727.7 C731.7,730.5 743.9,738.1 750.1,741.2 C756.3,744.3 760.0,745.5 762.0,746.3" stroke-width="6.10" fill="none" />
<path d="M640.0,744.6 C651.3,746.6 691.4,751.7 707.8,756.5 C724.1,761.3 732.0,770.0 738.2,773.4 C744.4,776.8 743.9,776.2 745.0,776.8" stroke-width="6.10" fill="none" />
<path d="M692.5,748.0 L707.8,753.1 L719.6,758.2" stroke-width="2.44" fill="none" />
<ellipse cx="750.9" cy="761.6" rx="11.0" ry="15.6" transform="rotate(15 750.9 761.6)" stroke-width="6.10" fill="none"/>
<ellipse cx="748.4" cy="761.6" rx="7.1" ry="11.9" transform="rotate(15 748.4 761.6)" stroke-width="3.05" fill="none"/>
<path d="M748.4,758.2 L809.4,790.0" stroke-width="2.44" fill="none" />
<path d="M653.6,654.9 L662.0,649.8 L673.9,654.9 L680.7,661.6 L680.7,682.0 L670.5,688.7 L660.3,678.6 L653.6,665.0 Z" stroke-width="3.66" fill="#000" />
<ellipse cx="689.1" cy="672.6" rx="6.8" ry="9.3" transform="rotate(20 689.1 672.6)" stroke-width="5.49" fill="none"/>
<path d="M640.0,707.4 L653.6,698.9 L658.6,693.8 L677.3,685.3" stroke-width="4.88" fill="none" />
<path d="M640.0,654.9 L650.2,649.8" stroke-width="3.66" fill="none" />
<path d="M131.4,270.0 C129.0,271.9 122.3,278.5 117.0,281.5 C111.8,284.5 104.1,287.2 99.8,288.2 C95.5,289.1 93.4,286.8 91.2,287.2 C88.9,287.6 88.0,288.8 86.4,290.6 C84.8,292.3 83.2,295.1 81.6,297.8 C80.0,300.4 78.2,304.0 76.8,306.4 C75.4,308.8 75.4,310.5 73.0,312.1 C70.6,313.7 65.3,314.0 62.4,316.0 C59.6,317.9 57.5,320.7 55.7,323.6 C54.0,326.5 52.9,330.0 51.9,333.2 C51.0,336.4 50.3,339.3 50.0,342.8 C49.7,346.3 49.5,350.6 50.0,354.3 C50.5,357.9 51.3,361.9 52.9,364.8 C54.5,367.7 56.9,369.7 59.6,371.5 C62.3,373.2 66.1,373.7 69.1,375.3 C72.2,376.9 76.3,380.1 77.8,381.1" stroke-width="5.61" fill="none" />
<path d="M77.8,381.1 C77.9,382.5 79.0,386.5 78.7,389.7 C78.4,392.8 76.3,398.3 75.8,400.0" stroke-width="5.61" fill="none" />
<path d="M94.0,293.0 C92.8,294.3 88.9,297.3 86.4,300.6 C83.8,304.0 80.5,310.4 78.7,313.1 C77.0,315.8 76.3,316.3 75.8,316.9" stroke-width="2.44" fill="none" />
<path d="M73.9,322.7 C72.2,323.1 66.2,323.0 63.4,325.1 C60.6,327.1 58.3,330.7 57.2,335.1 C56.1,339.5 56.5,346.6 56.7,351.4 C56.9,356.2 56.9,360.6 58.6,363.8 C60.4,367.0 65.8,369.4 67.2,370.5" stroke-width="3.66" fill="none" />
<path d="M118.0,283.4 L132.3,293.0" stroke-width="5.49" fill="none" />
<path d="M111.3,288.2 L93.1,302.6 L106.5,310.2 L121.8,302.6" stroke-width="4.27" fill="none" />
<path d="M121.8,302.6 L107.4,310.2 L91.2,327.4 L74.9,351.4" stroke-width="4.27" fill="none" />
<path d="M122.8,310.2 L107.4,327.4 L95.0,342.8 L86.4,354.3" stroke-width="4.27" fill="none" />
<path d="M102.7,316.0 L97.9,329.4" stroke-width="3.05" fill="none" />
<path d="M90.2,314.0 L104.6,314.0" stroke-width="3.05" fill="none" />
<path d="M126.6,300.6 L132.3,337.0 L136.2,365.7" stroke-width="5.49" fill="none" />
<path d="M130.4,273.8 L134.3,292.0" stroke-width="5.49" fill="none" />
<path d="M132.3,295.8 L144.8,296.8 L140.0,307.3 L134.3,301.6" stroke-width="4.88" fill="none" />
<path d="M136.2,275.7 L145.7,280.5 L250.0,317.9" stroke-width="3.66" fill="none" />
<path d="M140.0,292.0 L155.3,299.7 L179.2,311.2" stroke-width="3.66" fill="none" />
<path d="M145.7,297.8 C145.3,300.3 142.9,308.8 142.9,313.1 C142.9,317.4 144.0,319.9 145.7,323.6 C147.5,327.3 151.0,331.6 153.4,335.1 C155.8,338.6 156.6,341.3 160.1,344.7 C163.6,348.0 172.1,353.5 174.5,355.2" stroke-width="4.27" fill="none" />
<path d="M151.5,308.3 L178.3,323.6 L179.2,343.7 L155.3,332.2 L151.5,308.3" stroke-width="4.88" fill="none" />
<path d="M153.4,315.0 L177.3,327.4" stroke-width="8.54" fill="none" />
<path d="M154.4,323.6 L177.3,335.1" stroke-width="3.05" fill="none" />
<path d="M155.3,333.2 L177.3,342.8" stroke-width="3.05" fill="none" />
<ellipse cx="185.0" cy="314.0" rx="5.3" ry="6.2" transform="rotate(0 185.0 314.0)" stroke-width="4.88" fill="none"/>
<path d="M202.2,315.0 C203.2,314.2 204.9,310.7 208.0,310.2 C211.0,309.7 217.1,310.5 220.4,312.1 C223.8,313.7 227.0,317.7 228.1,319.8 C229.2,321.9 228.7,322.7 227.1,324.6 C225.5,326.5 222.2,331.0 218.5,331.3 C214.8,331.6 207.8,328.4 205.1,326.5 C202.4,324.6 202.7,321.7 202.2,319.8 C201.7,317.9 202.2,315.8 202.2,315.0" stroke-width="4.88" fill="none" />
<path d="M211.8,313.1 L225.2,321.7" stroke-width="3.05" fill="none" />
<path d="M180.2,321.7 L193.6,327.4 L207.0,331.3 L235.7,344.7" stroke-width="4.88" fill="none" />
<path d="M186.9,327.4 L197.4,338.9 L194.6,350.4 L187.9,350.4 L186.9,337.0" stroke-width="4.88" fill="none" />
<ellipse cx="228.1" cy="337.0" rx="4.3" ry="5.3" transform="rotate(0 228.1 337.0)" stroke-width="4.88" fill="none"/>
<path d="M236.7,332.2 L241.5,332.2 L250.0,335.1" stroke-width="3.66" fill="none" />
<path d="M196.5,341.8 C197.9,341.3 201.6,338.5 205.1,338.9 C208.6,339.4 213.1,342.6 217.5,344.7 C222.0,346.8 228.9,349.6 231.9,351.4 C234.9,353.1 235.7,353.9 235.7,355.2 C235.7,356.5 235.7,358.4 231.9,359.0 C228.1,359.7 218.2,360.2 212.8,359.0 C207.3,357.9 201.6,353.5 199.4,352.3" stroke-width="4.27" fill="none" />
<path d="M198.4,354.3 C200.8,355.8 207.2,361.3 212.8,363.8 C218.3,366.4 228.2,369.3 231.9,369.6 C235.6,369.9 234.3,366.4 234.8,365.7" stroke-width="4.27" fill="none" />
<path d="M205.1,363.8 C205.4,365.7 205.7,372.4 207.0,375.3 C208.3,378.2 210.2,380.1 212.8,381.1 C215.3,382.0 218.3,380.4 222.3,381.1 C226.3,381.7 234.3,384.2 236.7,384.9" stroke-width="4.27" fill="none" />
<path d="M119.9,375.3 L126.6,371.5 L166.8,371.5 L173.5,358.1" stroke-width="4.27" fill="none" />
<path d="M118.9,376.3 L124.7,381.1 L155.3,382.0 L164.9,375.3" stroke-width="4.27" fill="none" />
<path d="M112.2,384.9 L126.6,383.9 L150.5,385.8" stroke-width="4.27" fill="none" />
<path d="M173.5,358.1 L179.2,354.3 L184.0,356.2" stroke-width="4.27" fill="none" />
<path d="M179.2,356.2 L173.5,365.7 L164.9,380.1 L150.5,394.5 L145.7,400.0" stroke-width="4.88" fill="none" />
<path d="M70.1,359.0 L74.9,354.3 L81.6,358.1 L80.6,368.6 L73.9,366.7 L70.1,362.9 L70.1,359.0" stroke-width="4.27" fill="none" />
<path d="M82.6,361.0 L86.4,360.0 L90.2,363.8 L89.3,373.4 L83.5,371.5 L81.6,365.7 L82.6,361.0" stroke-width="4.27" fill="none" />
<path d="M93.1,365.7 L97.9,363.8 L106.5,369.6 L104.6,378.2 L95.0,375.3 L93.1,365.7" stroke-width="4.27" fill="none" />
<path d="M97.9,358.1 L101.7,353.3 L107.4,354.3 L113.2,361.0 L111.3,366.7 L105.5,367.7 L97.9,358.1" stroke-width="4.27" fill="none" />
<path d="M107.4,349.5 L109.4,345.6 L115.1,344.7 L119.9,351.4 L117.0,356.2 L112.2,357.1 L107.4,349.5" stroke-width="4.27" fill="none" />
<path d="M116.1,359.0 L120.8,355.2 L124.7,358.1 L123.7,365.7 L118.0,366.7 L116.1,359.0" stroke-width="4.27" fill="none" />
<path d="M73.9,370.5 L78.7,371.5 L79.7,376.3 L74.9,376.3 L73.9,370.5" stroke-width="3.05" fill="none" />
<path d="M81.6,373.4 L88.3,375.3 L89.3,380.1 L82.6,379.1 L81.6,373.4" stroke-width="3.05" fill="none" />
<path d="M117.0,337.0 L122.8,337.0 L128.5,344.7 L131.4,348.5" stroke-width="4.27" fill="none" />
<path d="M105.5,349.5 L117.0,338.9" stroke-width="3.66" fill="none" />
<path d="M81.6,386.8 L86.4,400.0" stroke-width="2.44" fill="none" />
<path d="M87.3,385.8 L91.2,400.0" stroke-width="2.44" fill="none" />
<path d="M93.1,386.8 L97.9,384.9 L99.8,389.7" stroke-width="3.66" fill="none" />
<path d="M105.5,392.5 C106.5,390.5 108.4,382.2 111.3,380.1 C114.1,378.0 119.6,379.3 122.8,380.1 C126.0,380.9 128.8,381.6 130.4,384.9 C132.0,388.2 132.0,397.5 132.3,400.0" stroke-width="4.27" fill="none" />
<path d="M129.5,394.5 C130.1,393.8 131.7,391.4 133.3,390.6 C134.9,389.8 136.5,389.0 139.0,389.7 C141.6,390.3 146.5,392.7 148.6,394.5 C150.7,396.2 151.0,399.1 151.5,400.0" stroke-width="4.27" fill="none" />
<path d="M203.2,270.0 L210.8,271.9 L226.2,276.7 L241.5,270.0" stroke-width="3.66" fill="none" />
<path d="M184.0,270.0 L231.9,282.4 L250.0,288.2" stroke-width="3.66" fill="none" />
<path d="M163.3,436.1 L181.8,453.4" stroke-width="3.66" fill="none" />
<path d="M165.9,454.7 L180.5,434.8" stroke-width="3.66" fill="none" />
<ellipse cx="172.5" cy="444.8" rx="5.3" ry="7.3" transform="rotate(20 172.5 444.8)" stroke-width="3.05" fill="none"/>
<path d="M1128,365 L1400,514" stroke-width="4.6" fill="none" />
<path d="M1400.0,514.0 C1405.3,516.8 1424.1,527.3 1431.6,530.9 C1439.1,534.4 1439.1,534.6 1445.1,535.4 C1451.1,536.1 1458.6,536.5 1467.6,535.4 C1476.7,534.3 1489.8,531.6 1499.2,528.6 C1508.6,525.6 1514.2,522.2 1524.0,517.4 C1533.8,512.5 1545.4,504.0 1557.8,499.3 C1570.2,494.6 1587.1,490.5 1598.4,489.2 C1609.7,487.9 1615.3,489.0 1625.5,491.4 C1635.6,493.9 1648.0,498.0 1659.3,503.8 C1670.6,509.6 1680.0,518.5 1693.1,526.4 C1706.3,534.3 1723.2,543.7 1738.2,551.2 C1753.3,558.7 1763.0,563.8 1783.3,571.5 C1803.6,579.2 1847.2,593.1 1860.0,597.4" stroke-width="4.60" fill="none" />
<path d="M1873,602 C1885,606 1895,611 1900,616" stroke-width="4.6" fill="none" />
<path d="M1121,390 L1146,407 L1400,546.7" stroke-width="4.6" fill="none" />
<path d="M1400.0,546.7 C1403.8,549.3 1415.0,559.1 1422.5,562.4 C1430.1,565.8 1436.8,566.2 1445.1,567.0 C1453.4,567.7 1462.8,568.1 1472.2,567.0 C1481.5,565.8 1491.7,563.6 1501.5,560.2 C1511.2,556.8 1521.4,551.5 1530.8,546.7 C1540.2,541.8 1547.7,535.2 1557.8,530.9 C1568.0,526.6 1582.3,522.2 1591.7,520.7 C1601.1,519.2 1604.8,519.8 1614.2,521.9 C1623.6,523.9 1636.8,528.2 1648.0,533.1 C1659.3,538.0 1668.7,544.0 1681.8,551.2 C1695.0,558.3 1710.0,567.7 1726.9,576.0 C1743.9,584.2 1764.5,593.1 1783.3,600.8 C1802.1,608.5 1830.3,618.6 1839.7,622.2" stroke-width="4.60" fill="none" />
<path d="M1011,262 C1018,262 1022,270 1025,276 L1145,341" stroke-width="5" fill="none" />
<path d="M949,326 L1082,398" stroke-width="5" fill="none" />
<path d="M948,318 C945,306 950,296 960,290 C978,279 996,270 1015,266" stroke-width="2.5" fill="none" />
<path d="M1085,386 C1080,396 1085,410 1097,410 L1128,397 L1160,372 C1168,362 1168,347 1156,342 C1150,340 1148,340 1146,341 L1090,377 C1087,380 1086,383 1085,386 Z" stroke-width="5" fill="none" />
<path d="M1090,388 C1088,398 1093,404 1100,403 L1128,391 L1155,370 C1161,362 1161,352 1155,349 L1095,382 Z" stroke-width="1.5" fill="none" />
<path d="M1095,390 C1094,396 1097,399 1102,398 L1127,387 L1150,369 C1155,362 1155,356 1152,354" stroke-width="1.5" fill="none" />
<path d="M1121,389 C1115,380 1118,368 1128,362 L1133,363" stroke-width="3.2" fill="none" />
<path d="M1126,387 C1122,379 1125,370 1131,366" stroke-width="1.6" fill="none" />
<path d="M913.8,288.3 L914.6,296.5 L917.4,298.9 L917,308.6 L924.3,313.5 L926.7,311 L934,313.5 L935.7,306 L936,297 L938,290.8 L948.6,286.7 L951.9,281.9 L949.4,275.4 L945.4,273.8 L940.5,273 L934,274.6 L928.4,271.3 L924.3,272.1 L922.7,278.6 L920.3,285.9 Z" stroke-width="1.5" fill="#000" />
<ellipse cx="929.6" cy="280.5" rx="2.6" ry="1.6" fill="#fff" stroke="none"/>
<ellipse cx="940.5" cy="280.5" rx="3" ry="1.8" fill="#fff" stroke="none"/>
<ellipse cx="921.9" cy="293.2" rx="3.2" ry="1.8" fill="#fff" stroke="none"/>
<ellipse cx="929.2" cy="287.5" rx="2.2" ry="2.6" fill="#fff" stroke="none"/>
<ellipse cx="929.2" cy="298" rx="2.6" ry="1.6" fill="#fff" stroke="none"/>
<ellipse cx="922.7" cy="303" rx="1.6" ry="2.4" fill="#fff" stroke="none"/>
<ellipse cx="934.8" cy="291.6" rx="1.4" ry="2.4" fill="#fff" stroke="none"/>
<path d="M948.6,276 C950,268 953,262 960.8,254.3 L968,247.8 L973,244.6 L977.8,243.8 L982.7,247.8 L991.6,251.9 L999.7,254.3 L1001.3,262.4 L993.2,266.5 L982.7,266.5 L977,270.5 L971.3,275.4 L966.5,281.9 L956.7,283 Z" stroke-width="1.5" fill="#000" />
<path d="M956.7,277 C957,268 962,261 968,258.4 C972,257 976,259 977.8,262.4 C976,265 972,268 967.3,272.1 C965,275 964.5,278 964.8,280.2 Z" stroke-width="0.8" fill="#fff" stroke="#fff"/>
<path d="M975,250 L984,256" stroke-width="1.6" fill="none" stroke="#fff"/>
<path d="M971,252 L978,258" stroke-width="1.2" fill="none" stroke="#fff"/>
<path d="M990,257 C993,258 995,260 996,262" stroke-width="1.6" fill="none" stroke="#fff"/>
<path d="M983,262 C985,258 988,256 990,259 L987,263" stroke-width="1.2" fill="none" stroke="#fff"/>
<path d="M952,284 C952,275 956,266 962,259" stroke-width="1.1" fill="none" stroke="#fff"/>
<path d="M936,313 C934,305 937,296 943,290 C955,278 975,266 995,259 C1005,256 1012,257 1016,262" stroke-width="6.5" fill="none" />
<path d="M940,310 C939,303 942,297 947,292 C958,281 977,270 996,263" stroke-width="1.1" fill="none" stroke="#fff"/>
<path d="M944,312 C943,305 946,299 951,294 C962,284 980,273 999,266" stroke-width="1.1" fill="none" stroke="#fff"/>
<path d="M936,313 C935,320 940,327 948,327" stroke-width="4" fill="none" />
<path d="M1694,733 L1800,676 L1832,658" stroke-width="5.5" fill="none" />
<path d="M1782,820 L1933,731" stroke-width="5.5" fill="none" />
<path d="M1831,657 C1836,647 1845,641 1857,641 C1880,646 1905,660 1929,680 C1942,692 1946,708 1944,720 C1942,728 1937,732 1933,732" stroke-width="5.5" fill="none" />
<path d="M1838,656 C1845,649 1855,648 1866,650 C1890,660 1912,675 1928,690 C1938,702 1939,715 1935,725" stroke-width="1.6" fill="none" />
<path d="M1852,630 C1862,633 1875,638 1882,643 L1884,648" stroke-width="3" fill="none" />
<path d="M1690,735 C1678,737 1669,745 1668,758 C1667,775 1680,795 1705,812 C1730,828 1755,835 1768,832 C1780,829 1784,818 1782,805 C1778,785 1760,765 1740,752 C1720,740 1702,733 1690,735 Z" stroke-width="5.5" fill="none" />
<path d="M1688,742 C1678,745 1674,755 1676,766 C1680,782 1694,797 1712,809 C1735,823 1757,828 1766,824 C1775,820 1776,808 1772,797 C1765,780 1750,766 1732,755 C1716,746 1700,740 1688,742 Z" stroke-width="1.5" fill="none" />
<path d="M1688,748 C1680,752 1680,762 1683,770 C1688,783 1700,795 1716,805" stroke-width="1.5" fill="none" />
<path d="M1717,799 L1742,786 C1752,781 1760,790 1759,800 C1758,806 1754,810 1750,812 L1730,823" stroke-width="3" fill="none" />
<ellipse cx="1726" cy="811" rx="9.5" ry="12" transform="rotate(-20 1726 811)" stroke-width="3"/>
<ellipse cx="1726" cy="811" rx="6" ry="8.5" transform="rotate(-20 1726 811)" stroke-width="1.5"/>
<path d="M1906,586.8 L1908,582.7 L1928.7,572.4 L1937,572.4 C1941,575 1943,578 1943,580.6 C1945,586 1945,590 1945,595 L1943,603.3 L1924.5,612.6 L1920.4,613.6 C1914,613 1910,611 1908,609.5 C1905,605 1904,596 1906,586.8 Z" stroke-width="3.5" fill="none" />
<path d="M1908,588.9 L1916.3,584.7 C1920,587 1922,590 1922.5,593 C1924,598 1925,602 1924.5,605.4 L1918.4,611.5" stroke-width="2.5" fill="none" />
<path d="M1911,592 L1916,596 L1912,600 L1918,604" stroke-width="1.5" fill="none" />
<path d="M1906,613.6 C1902,618 1901.9,621.9 1902,628 C1903,640 1904,648 1906,657" stroke-width="3" fill="none" />
<path d="M1914.2,613.6 C1912,618 1912,622 1912.5,630 C1913,640 1914,650 1916.3,661" stroke-width="3" fill="none" />
<path d="M1449,893 L1556,944" stroke-width="4.6" fill="none" />
<path d="M1365,966 L1486,1020" stroke-width="4.6" fill="none" />
<path d="M1364,967 C1355,969 1347,965 1346,955 C1344,940 1350,925 1362,914 C1375,902 1395,892 1415,884 C1428,879 1440,879 1447,885 C1450,888 1450,892 1449,895" stroke-width="4.6" fill="none" />
<path d="M1352,955 C1350,940 1356,928 1368,918 C1382,907 1400,897 1420,889 C1432,885 1440,886 1444,890" stroke-width="1.5" fill="none" />
<path d="M1357,960 C1355,945 1360,933 1372,923 C1386,912 1403,902 1423,894" stroke-width="1.5" fill="none" />
<path d="M1359,870 L1385,898" stroke-width="3" fill="none" />
<path d="M1399,870 L1414,882" stroke-width="3" fill="none" />
<path d="M1387,884 C1390,876 1397,872 1405,871" stroke-width="1.6" fill="none" />
<path d="M1489,1000 C1495,988 1510,975 1536,957 C1546,950 1555,945 1563,948 C1575,946 1585,949 1591,958 C1596,968 1592,982 1585,992" stroke-width="4.6" fill="none" />
<path d="M1489,1000 C1486,1012 1489,1024 1497,1033 C1503,1037 1512,1036 1522,1033 L1551,1020" stroke-width="4.6" fill="none" />
<path d="M1494,1003 C1493,1015 1494,1025 1500,1029 L1530,1018 L1545,1012" stroke-width="1.5" fill="none" />
<path d="M1498,997 C1508,983 1520,972 1535,962" stroke-width="1.5" fill="none" />
<path d="M1571,958 C1583,955 1588,965 1586,975 C1583,984 1580,988 1577,991" stroke-width="1.5" fill="none" />
<path d="M1534.7,964.3 L1548,954 L1559.8,946.6 L1565.6,949.5 L1567,958.4 L1568.6,970.1 L1562.7,976 L1555.3,979 L1552.4,982 L1546.5,983.4 L1543.6,987.8 L1540.6,984.9 L1539.2,976 L1534.7,970.1 Z" stroke-width="3" fill="#fff" />
<path d="M1550,953 L1559.8,946.6 L1565.6,949.5 L1567,958.4 L1568.6,970.1 L1562.7,976 L1556,972 L1554,960 Z" stroke-width="1" fill="#000" />
<path d="M1537,966 C1538,961 1543,960 1547,963 C1551,967 1552,975 1549,979 C1546,981 1542,978 1540.6,973" stroke-width="2.2" fill="none" />
<path d="M1541,968 C1543,966 1546,968 1546,972" stroke-width="1.5" fill="none" />
<path d="M1529,992 C1528,1000 1532,1006 1540,1009 C1550,1012 1560,1016 1570,1022 C1580,1030 1588,1045 1596,1061" stroke-width="4.6" fill="none" />
<path d="M1554,987 L1580,997 C1592,1004 1600,1015 1606,1025 L1625,1051" stroke-width="4.6" fill="none" />
<path d="M1596,1061 L1625,1053" stroke-width="4.6" fill="none" />
<path d="M1412.5,843.6 C1414.1,842.7 1419.4,840.2 1422.2,838.3 C1425.0,836.4 1427.9,835.2 1429.2,832.1 C1430.6,829.0 1430.3,823.2 1430.1,819.8 C1430.0,816.4 1430.1,814.5 1428.4,811.8 C1426.6,809.2 1422.5,805.5 1419.5,803.9 C1416.6,802.2 1413.9,802.2 1410.7,802.1 C1407.5,801.9 1403.3,801.8 1400.1,803.0 C1396.8,804.2 1393.9,807.4 1391.3,809.2 C1388.6,810.9 1385.4,812.8 1384.2,813.6" stroke-width="4.50" fill="none" />
<path d="M1384.2,813.6 L1359.4,836.6" stroke-width="4.50" fill="none" />
<path d="M1359.4,836.6 C1358.9,837.9 1356.3,840.7 1355.9,844.5 C1355.5,848.3 1356.1,855.6 1356.8,859.5 C1357.5,863.5 1359.7,866.9 1360.3,868.4" stroke-width="4.50" fill="none" />
<path d="M1360.3,868.4 L1384.2,894.9" stroke-width="4.50" fill="none" />
<path d="M1393.0,856.0 L1412.5,881.6" stroke-width="4.50" fill="none" />
<path d="M1389.5,856.9 C1389.3,856.4 1388.7,855.3 1388.2,854.2 C1387.6,853.2 1386.3,851.3 1385.9,850.7" stroke-width="3.00" fill="none" />
<path d="M1385.9,850.7 C1384.9,850.7 1381.8,850.4 1379.8,850.7 C1377.7,851.0 1375.8,851.3 1373.6,852.5 C1371.4,853.6 1368.3,855.8 1366.5,857.8 C1364.7,859.7 1363.6,862.9 1363.0,863.9" stroke-width="3.00" fill="none" />
<path d="M1391.3,814.5 C1392.3,815.3 1395.7,817.3 1397.4,819.8 C1399.2,822.3 1400.8,826.5 1401.9,829.5 C1402.9,832.4 1403.8,834.9 1403.6,837.4 C1403.5,839.9 1402.4,842.9 1401.0,844.5 C1399.5,846.1 1395.8,846.7 1394.8,847.2" stroke-width="4.00" fill="none" />
<path d="M1398.3,809.2 C1399.5,810.5 1403.5,814.6 1405.4,817.1 C1407.3,819.6 1408.6,821.5 1409.8,824.2 C1411.0,826.8 1411.9,830.8 1412.5,833.0 C1413.0,835.2 1413.2,836.7 1413.3,837.4" stroke-width="4.50" fill="none" />
<path d="M1399.2,809.2 C1400.5,808.7 1404.5,806.2 1407.2,806.5 C1409.8,806.8 1413.0,809.0 1415.1,810.9 C1417.2,812.8 1418.5,815.5 1419.5,818.0 C1420.6,820.5 1421.3,823.4 1421.3,825.9 C1421.3,828.5 1420.7,831.0 1419.5,833.0 C1418.3,835.1 1415.1,837.4 1414.2,838.3" stroke-width="4.00" fill="none" />
<path d="M1415.1,806.5 L1423.9,809.2 L1428.4,815.3 L1428.4,829.5 L1422.2,837.4 L1416.0,838.3 L1419.5,833.0 L1421.3,825.9 L1419.5,818.0 Z" stroke-width="1.00" fill="#000" />
<path d="M1382.4,838.3 C1383.0,837.7 1384.6,835.4 1385.9,834.8 C1387.3,834.2 1389.0,833.6 1390.4,834.8 C1391.7,836.0 1393.2,840.1 1393.9,841.9 C1394.6,843.6 1394.6,844.8 1394.8,845.4" stroke-width="3.00" fill="none" />
<path d="M1384.2,838.3 C1384.8,839.2 1386.7,842.0 1387.7,843.6 C1388.7,845.2 1389.9,847.3 1390.4,848.0" stroke-width="2.50" fill="none" />
<path d="M1393.0,856.0 L1400.1,849.8 L1412.5,844.5" stroke-width="4.00" fill="none" />
<path d="M1427.5,812.7 L1460.0,792.4" stroke-width="2.00" fill="none" />
<path d="M1387.7,889.6 C1388.6,888.2 1390.7,883.2 1393.0,881.6 C1395.4,880.0 1397.9,879.8 1401.9,879.8 C1405.8,879.8 1414.4,881.3 1416.9,881.6" stroke-width="3.00" fill="none" />
<path d="M1394.8,831.3 C1395.2,830.1 1397.7,826.4 1397.4,824.2 C1397.1,822.0 1393.8,819.0 1393.0,818.0" stroke-width="1.50" fill="none" />
<path d="M1264,782 L1294,770 L1302,772 L1307,798 L1302,807 L1275,815 L1267,810 C1263,800 1262,790 1264,782 Z" stroke-width="3" fill="none" />
<path d="M1272,786 L1284,795 L1276,800 L1285,806" stroke-width="1.5" fill="none" />
<path d="M1283,780 C1290,785 1292,795 1291,810" stroke-width="1.6" fill="none" />
<path d="M1302,805 C1310,820 1322,835 1336,843 L1354,852" stroke-width="3" fill="none" />
<path d="M1306,800 C1315,815 1326,828 1340,836 L1354,845" stroke-width="2.5" fill="none" />
<path d="M1137,533 L1153,523 L1153,542 L1267,603 L1267,655 L1257,662 L1251,656 L1251,614 L1137,553 Z" stroke-width="1" fill="#000" />
<path d="M1136,595 L1150,610 L1150,622 L1142,626 L1136,620 Z" stroke-width="1" fill="#000" />
<path d="M1137,533 L1093,547 L1136,620 L1136,595 L1251,656 L1251,614 L1137,553 Z" stroke-width="3.5" fill="#fff" />
<text transform="translate(1148,599.5) skewY(27.5) scale(0.625,1)" font-family="Liberation Sans, sans-serif" font-size="50" fill="#000" stroke="#000" stroke-width="0.6" letter-spacing="12">FWD</text>
<path d="M1427,812 L1480,781 C1488,777 1495,778 1500,781 L1655,852 C1665,854 1672,850 1680,845 L1716,816" stroke-width="1.5" fill="none" stroke-dasharray="140,12,6,12"/>
<path d="M765,767 L955,868 C970,875 990,865 988,840 L862,300 C857,282 865,268 879,268 C893,268 905,274 918,282" stroke-width="1.8" fill="none" stroke-dasharray="400,8,4,8" stroke-dashoffset="273"/>
<path d="M362.8,144.0 L237.8,404.3 L245.2,407.9 L372.7,148.8 Z" fill="#000" stroke="none"/>
<path d="M226.0,438.0 L235.7,389.4 L242.4,404.3 L258.2,400.3 Z" fill="#000" stroke="none"/>
<path d="M359.2,149.2 L446.9,300.2 L454.0,296.2 L368.8,143.8 Z" fill="#000" stroke="none"/>
<path d="M468.0,329.0 L433.4,293.5 L449.5,296.5 L455.1,281.1 Z" fill="#000" stroke="none"/>
<path d="M827.2,172.3 L896.8,257.8 L903.2,252.7 L835.8,165.4 Z" fill="#000" stroke="none"/>
<path d="M922.0,283.0 L882.4,253.2 L898.7,253.7 L902.0,237.6 Z" fill="#000" stroke="none"/>
<path d="M832.7,168.5 L934.9,232.3 L939.4,225.4 L838.6,159.2 Z" fill="#000" stroke="none"/>
<path d="M967.0,248.0 L919.8,232.6 L935.5,227.8 L933.3,211.6 Z" fill="#000" stroke="none"/>
<path d="M1164.3,169.4 L1087.5,264.1 L1093.8,269.4 L1172.8,176.4 Z" fill="#000" stroke="none"/>
<path d="M1068.0,294.0 L1089.1,249.1 L1091.9,265.2 L1108.3,265.1 Z" fill="#000" stroke="none"/>
<path d="M1639.0,204.5 L1427.1,487.3 L1433.6,492.2 L1647.8,211.1 Z" fill="#000" stroke="none"/>
<path d="M1409.0,518.0 L1428.0,472.2 L1431.6,488.1 L1447.9,487.2 Z" fill="#000" stroke="none"/>
<path d="M2028.1,376.5 L1798.2,680.3 L1804.7,685.3 L2036.8,383.2 Z" fill="#000" stroke="none"/>
<path d="M1780.0,711.0 L1799.2,665.2 L1802.7,681.2 L1819.0,680.4 Z" fill="#000" stroke="none"/>
<path d="M1786.3,945.8 L1447.2,851.7 L1445.0,859.6 L1783.4,956.4 Z" fill="#000" stroke="none"/>
<path d="M1412.0,846.0 L1461.6,847.0 L1448.0,856.2 L1454.8,871.1 Z" fill="#000" stroke="none"/>
<path d="M1238.6,1003.7 L1312.3,969.2 L1309.0,961.7 L1234.1,993.6 Z" fill="#000" stroke="none"/>
<path d="M1343.0,951.0 L1304.3,982.0 L1308.8,966.3 L1294.1,959.2 Z" fill="#000" stroke="none"/>
<path d="M468.8,772.7 L381.5,626.5 L374.4,630.6 L459.3,778.2 Z" fill="#000" stroke="none"/>
<path d="M360.0,598.0 L395.1,633.1 L378.9,630.3 L373.5,645.7 Z" fill="#000" stroke="none"/>
<path d="M465.6,777.8 L570.6,512.4 L563.0,509.4 L455.4,773.7 Z" fill="#000" stroke="none"/>
<path d="M580.0,478.0 L573.7,527.2 L566.1,512.7 L550.5,517.9 Z" fill="#000" stroke="none"/>
<circle cx="366.5" cy="113.6" r="36.1" fill="#fff" stroke-width="7"/>
<path d="M355.7,105.4 L355.7,111 L361.9,109 L362.9,109.5 L362.9,128 L369.1,128 L369.1,98.1 L364.4,98.1 L360.8,102.3 L357.7,104.3 Z" fill="#000" stroke="none"/>
<circle cx="806.5" cy="142.7" r="36.1" fill="#fff" stroke-width="7"/>
<text x="804.7" y="155.89999999999998" text-anchor="middle" font-family="Liberation Sans, sans-serif" font-weight="bold" font-size="42.5" fill="#000" stroke="none">2</text>
<circle cx="1192.6" cy="149" r="36.1" fill="#fff" stroke-width="7"/>
<text x="1190.8" y="162.2" text-anchor="middle" font-family="Liberation Sans, sans-serif" font-weight="bold" font-size="42.5" fill="#000" stroke="none">3</text>
<circle cx="1667.5" cy="181" r="36.1" fill="#fff" stroke-width="7"/>
<text x="1665.7" y="194.2" text-anchor="middle" font-family="Liberation Sans, sans-serif" font-weight="bold" font-size="42.5" fill="#000" stroke="none">4</text>
<circle cx="2052.3" cy="349.8" r="36.1" fill="#fff" stroke-width="7"/>
<text x="2050.5" y="363.0" text-anchor="middle" font-family="Liberation Sans, sans-serif" font-weight="bold" font-size="42.5" fill="#000" stroke="none">5</text>
<circle cx="1818.7" cy="964.7" r="36.1" fill="#fff" stroke-width="7"/>
<text x="1816.9" y="977.9000000000001" text-anchor="middle" font-family="Liberation Sans, sans-serif" font-weight="bold" font-size="42.5" fill="#000" stroke="none">6</text>
<circle cx="1205" cy="1018" r="36.1" fill="#fff" stroke-width="7"/>
<text x="1203.2" y="1031.2" text-anchor="middle" font-family="Liberation Sans, sans-serif" font-weight="bold" font-size="42.5" fill="#000" stroke="none">7</text>
<circle cx="463" cy="809.8" r="36.1" fill="#fff" stroke-width="7"/>
<text x="461.2" y="823.0" text-anchor="middle" font-family="Liberation Sans, sans-serif" font-weight="bold" font-size="42.5" fill="#000" stroke="none">8</text>
</g>
<g font-family="Liberation Sans, sans-serif" font-size="33.5" fill="#000">
<text x="36.3" y="1127.5">1 - V-BAND CLAMPS</text>
<text x="36.3" y="1165">2 - BAND CLAMPS</text>
<text x="36.3" y="1202">3 - FRONT RESONATOR</text>
<text x="36.3" y="1238.5">4 - INTERMEDIATE PIPE</text>
<text x="1144" y="1127.5">5 - MUFFLER</text>
<text x="1144" y="1165">6 - BAND CLAMP</text>
<text x="1144" y="1202">7 - LEFT REAR RESONATOR/PIPE ASSEMBLY</text>
<text x="1144" y="1238.5">8 - CATALYTIC CONVERTERS</text>
<text transform="translate(35.6,1283) scale(0.863,1)" font-size="29.2" stroke="#000" stroke-width="0.6">G02709206</text>
</g>
</svg>
</body></html>
